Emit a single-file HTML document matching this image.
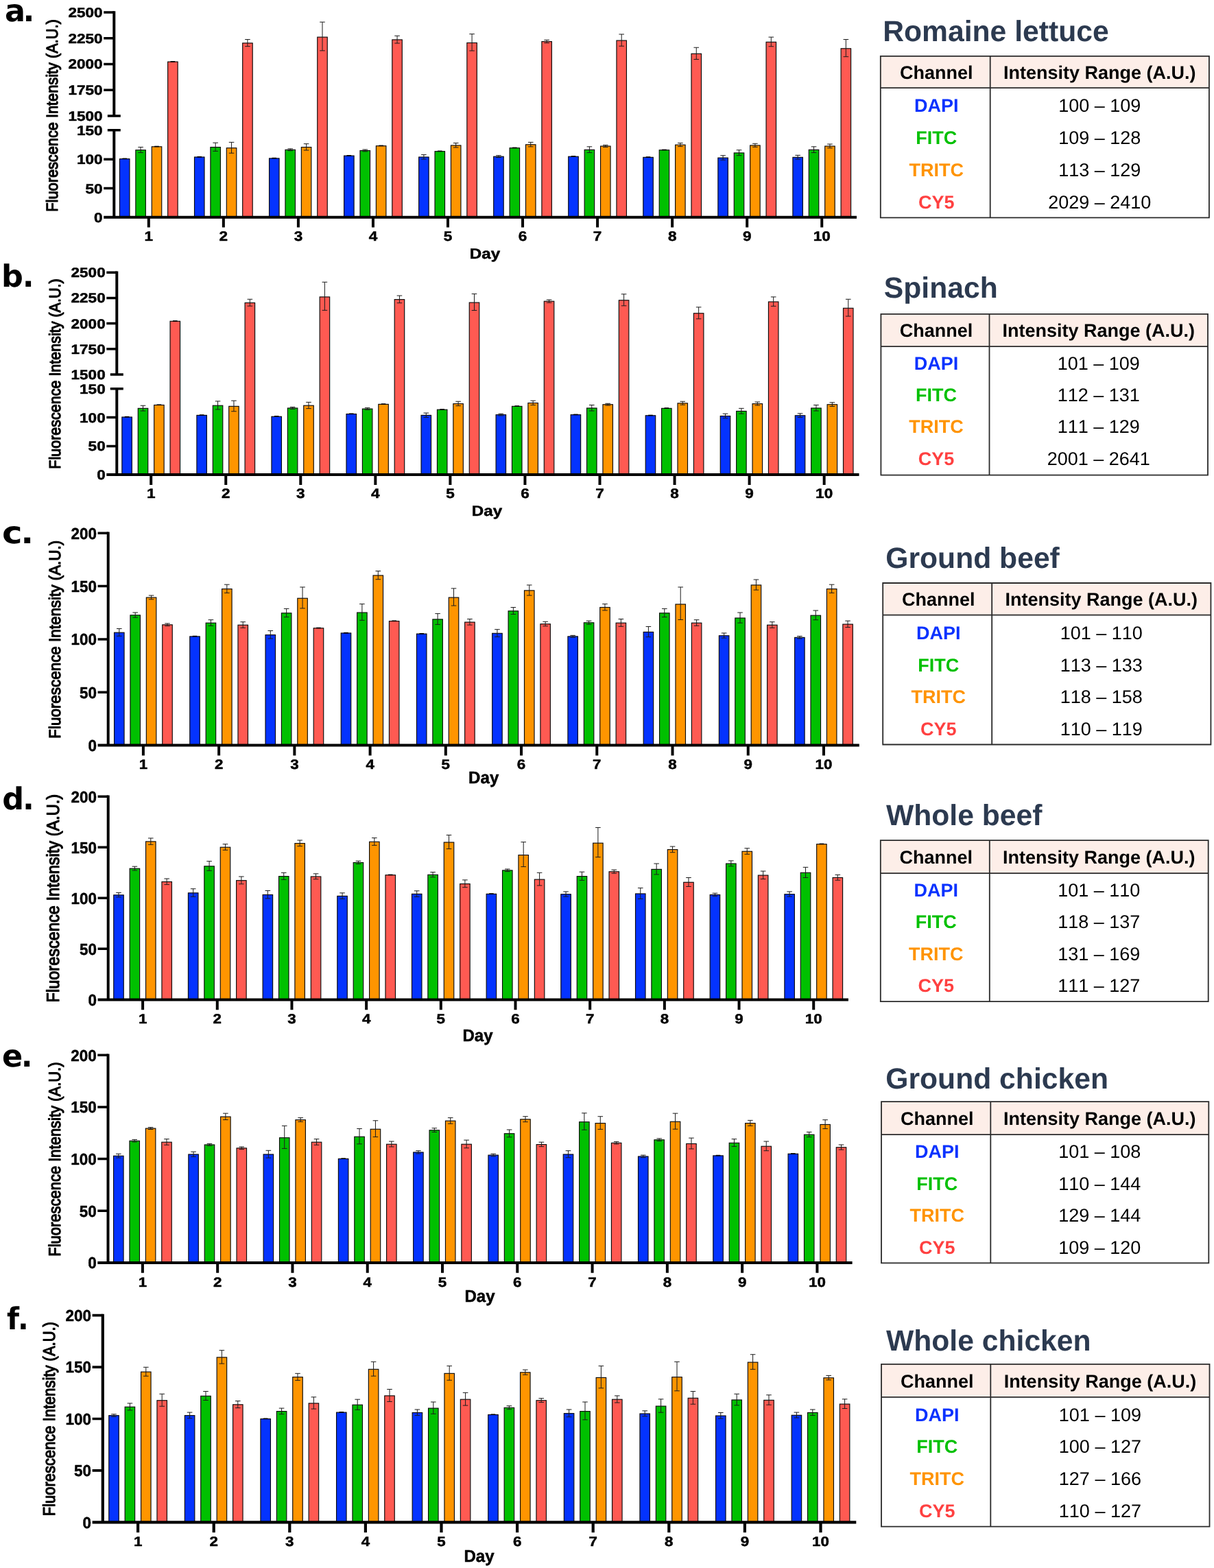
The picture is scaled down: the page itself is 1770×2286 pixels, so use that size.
<!DOCTYPE html>
<html lang="en"><head><meta charset="utf-8"><title>Fluorescence intensity by channel and food matrix</title>
<style>html,body{margin:0;padding:0;background:#fff}body{width:1770px;height:2286px;overflow:hidden}svg{display:block}text{font-kerning:none;text-rendering:geometricPrecision}</style>
</head><body>
<svg width="1770" height="2286" viewBox="0 0 1770 2286">
<rect width="1770" height="2286" fill="#fff"/>
<g>
<rect x="174.45" y="231.63" width="14.5" height="85.17" fill="#0433ff" stroke="#0a0a0a" stroke-width="1.15"/>
<path d="M178.4 231.33H185" stroke="#000" stroke-width="1.6" fill="none"/>
<rect x="197.85" y="218.76" width="14.5" height="98.04" fill="#00c000" stroke="#0a0a0a" stroke-width="1.15"/>
<path d="M205.1 214.59V222.51M201.3 214.59H208.9M201.3 222.51H208.9" stroke="#1c1c1c" stroke-width="1" fill="none"/>
<rect x="221.25" y="213.84" width="14.5" height="102.96" fill="#ff9500" stroke="#0a0a0a" stroke-width="1.15"/>
<path d="M225.2 213.54H231.8" stroke="#000" stroke-width="1.6" fill="none"/>
<rect x="244.65" y="90.08" width="14.5" height="226.72" fill="#ff5a52" stroke="#0a0a0a" stroke-width="1.15"/>
<path d="M248.6 89.78H255.2" stroke="#000" stroke-width="1.6" fill="none"/>
<rect x="283.5" y="228.98" width="14.5" height="87.82" fill="#0433ff" stroke="#0a0a0a" stroke-width="1.15"/>
<path d="M287.45 228.68H294.05" stroke="#000" stroke-width="1.6" fill="none"/>
<rect x="306.9" y="214.59" width="14.5" height="102.21" fill="#00c000" stroke="#0a0a0a" stroke-width="1.15"/>
<path d="M314.15 208.16V220.39M310.35 208.16H317.95M310.35 220.39H317.95" stroke="#1c1c1c" stroke-width="1" fill="none"/>
<rect x="330.3" y="215.73" width="14.5" height="101.07" fill="#ff9500" stroke="#0a0a0a" stroke-width="1.15"/>
<path d="M337.55 207.4V223.22M333.75 207.4H341.35M333.75 223.22H341.35" stroke="#1c1c1c" stroke-width="1" fill="none"/>
<rect x="353.7" y="62.83" width="14.5" height="253.97" fill="#ff5a52" stroke="#0a0a0a" stroke-width="1.15"/>
<path d="M360.95 57.53V67.6M357.15 57.53H364.75M357.15 67.6H364.75" stroke="#1c1c1c" stroke-width="1" fill="none"/>
<rect x="392.55" y="230.87" width="14.5" height="85.93" fill="#0433ff" stroke="#0a0a0a" stroke-width="1.15"/>
<path d="M396.5 230.57H403.1" stroke="#000" stroke-width="1.6" fill="none"/>
<rect x="415.95" y="218.38" width="14.5" height="98.42" fill="#00c000" stroke="#0a0a0a" stroke-width="1.15"/>
<path d="M423.2 216.87V219.74M419.4 216.87H427M419.4 219.74H427" stroke="#1c1c1c" stroke-width="1" fill="none"/>
<rect x="439.35" y="214.59" width="14.5" height="102.21" fill="#ff9500" stroke="#0a0a0a" stroke-width="1.15"/>
<path d="M446.6 209.67V219.02M442.8 209.67H450.4M442.8 219.02H450.4" stroke="#1c1c1c" stroke-width="1" fill="none"/>
<rect x="462.75" y="54.12" width="14.5" height="262.68" fill="#ff5a52" stroke="#0a0a0a" stroke-width="1.15"/>
<path d="M470 32.17V73.88M466.2 32.17H473.8M466.2 73.88H473.8" stroke="#1c1c1c" stroke-width="1" fill="none"/>
<rect x="501.6" y="227.08" width="14.5" height="89.72" fill="#0433ff" stroke="#0a0a0a" stroke-width="1.15"/>
<path d="M505.55 226.78H512.15" stroke="#000" stroke-width="1.6" fill="none"/>
<rect x="525" y="219.52" width="14.5" height="97.28" fill="#00c000" stroke="#0a0a0a" stroke-width="1.15"/>
<path d="M532.25 218V220.88M528.45 218H536.05M528.45 220.88H536.05" stroke="#1c1c1c" stroke-width="1" fill="none"/>
<rect x="548.4" y="212.7" width="14.5" height="104.1" fill="#ff9500" stroke="#0a0a0a" stroke-width="1.15"/>
<path d="M552.35 212.4H558.95" stroke="#000" stroke-width="1.6" fill="none"/>
<rect x="571.8" y="57.91" width="14.5" height="258.89" fill="#ff5a52" stroke="#0a0a0a" stroke-width="1.15"/>
<path d="M579.05 52.23V63.02M575.25 52.23H582.85M575.25 63.02H582.85" stroke="#1c1c1c" stroke-width="1" fill="none"/>
<rect x="610.65" y="228.98" width="14.5" height="87.82" fill="#0433ff" stroke="#0a0a0a" stroke-width="1.15"/>
<path d="M617.9 225.57V232.04M614.1 225.57H621.7M614.1 232.04H621.7" stroke="#1c1c1c" stroke-width="1" fill="none"/>
<rect x="634.05" y="220.65" width="14.5" height="96.15" fill="#00c000" stroke="#0a0a0a" stroke-width="1.15"/>
<path d="M638 220.35H644.6" stroke="#000" stroke-width="1.6" fill="none"/>
<rect x="657.45" y="211.95" width="14.5" height="104.85" fill="#ff9500" stroke="#0a0a0a" stroke-width="1.15"/>
<path d="M664.7 208.54V215.01M660.9 208.54H668.5M660.9 215.01H668.5" stroke="#1c1c1c" stroke-width="1" fill="none"/>
<rect x="680.85" y="62.45" width="14.5" height="254.35" fill="#ff5a52" stroke="#0a0a0a" stroke-width="1.15"/>
<path d="M688.1 49.58V74.03M684.3 49.58H691.9M684.3 74.03H691.9" stroke="#1c1c1c" stroke-width="1" fill="none"/>
<rect x="719.7" y="228.22" width="14.5" height="88.58" fill="#0433ff" stroke="#0a0a0a" stroke-width="1.15"/>
<path d="M726.95 226.71V229.58M723.15 226.71H730.75M723.15 229.58H730.75" stroke="#1c1c1c" stroke-width="1" fill="none"/>
<rect x="743.1" y="215.73" width="14.5" height="101.07" fill="#00c000" stroke="#0a0a0a" stroke-width="1.15"/>
<path d="M747.05 215.43H753.65" stroke="#000" stroke-width="1.6" fill="none"/>
<rect x="766.5" y="210.81" width="14.5" height="105.99" fill="#ff9500" stroke="#0a0a0a" stroke-width="1.15"/>
<path d="M773.75 207.4V213.88M769.95 207.4H777.55M769.95 213.88H777.55" stroke="#1c1c1c" stroke-width="1" fill="none"/>
<rect x="789.9" y="60.56" width="14.5" height="256.24" fill="#ff5a52" stroke="#0a0a0a" stroke-width="1.15"/>
<path d="M797.15 58.29V62.6M793.35 58.29H800.95M793.35 62.6H800.95" stroke="#1c1c1c" stroke-width="1" fill="none"/>
<rect x="828.75" y="228.22" width="14.5" height="88.58" fill="#0433ff" stroke="#0a0a0a" stroke-width="1.15"/>
<path d="M832.7 227.92H839.3" stroke="#000" stroke-width="1.6" fill="none"/>
<rect x="852.15" y="218.38" width="14.5" height="98.42" fill="#00c000" stroke="#0a0a0a" stroke-width="1.15"/>
<path d="M859.4 213.84V222.47M855.6 213.84H863.2M855.6 222.47H863.2" stroke="#1c1c1c" stroke-width="1" fill="none"/>
<rect x="875.55" y="213.08" width="14.5" height="103.72" fill="#ff9500" stroke="#0a0a0a" stroke-width="1.15"/>
<path d="M882.8 211.57V214.44M879 211.57H886.6M879 214.44H886.6" stroke="#1c1c1c" stroke-width="1" fill="none"/>
<rect x="898.95" y="59.04" width="14.5" height="257.76" fill="#ff5a52" stroke="#0a0a0a" stroke-width="1.15"/>
<path d="M906.2 49.96V67.22M902.4 49.96H910M902.4 67.22H910" stroke="#1c1c1c" stroke-width="1" fill="none"/>
<rect x="937.8" y="229.36" width="14.5" height="87.44" fill="#0433ff" stroke="#0a0a0a" stroke-width="1.15"/>
<path d="M941.75 229.06H948.35" stroke="#000" stroke-width="1.6" fill="none"/>
<rect x="961.2" y="218.76" width="14.5" height="98.04" fill="#00c000" stroke="#0a0a0a" stroke-width="1.15"/>
<path d="M965.15 218.46H971.75" stroke="#000" stroke-width="1.6" fill="none"/>
<rect x="984.6" y="211.19" width="14.5" height="105.61" fill="#ff9500" stroke="#0a0a0a" stroke-width="1.15"/>
<path d="M991.85 208.54V213.57M988.05 208.54H995.65M988.05 213.57H995.65" stroke="#1c1c1c" stroke-width="1" fill="none"/>
<rect x="1008" y="78.34" width="14.5" height="238.46" fill="#ff5a52" stroke="#0a0a0a" stroke-width="1.15"/>
<path d="M1015.25 69.26V86.52M1011.45 69.26H1019.05M1011.45 86.52H1019.05" stroke="#1c1c1c" stroke-width="1" fill="none"/>
<rect x="1046.85" y="230.11" width="14.5" height="86.69" fill="#0433ff" stroke="#0a0a0a" stroke-width="1.15"/>
<path d="M1054.1 226.71V233.18M1050.3 226.71H1057.9M1050.3 233.18H1057.9" stroke="#1c1c1c" stroke-width="1" fill="none"/>
<rect x="1070.25" y="222.92" width="14.5" height="93.88" fill="#00c000" stroke="#0a0a0a" stroke-width="1.15"/>
<path d="M1077.5 218.76V226.67M1073.7 218.76H1081.3M1073.7 226.67H1081.3" stroke="#1c1c1c" stroke-width="1" fill="none"/>
<rect x="1093.65" y="211.95" width="14.5" height="104.85" fill="#ff9500" stroke="#0a0a0a" stroke-width="1.15"/>
<path d="M1100.9 209.3V214.33M1097.1 209.3H1104.7M1097.1 214.33H1104.7" stroke="#1c1c1c" stroke-width="1" fill="none"/>
<rect x="1117.05" y="61.31" width="14.5" height="255.49" fill="#ff5a52" stroke="#0a0a0a" stroke-width="1.15"/>
<path d="M1124.3 54.12V67.78M1120.5 54.12H1128.1M1120.5 67.78H1128.1" stroke="#1c1c1c" stroke-width="1" fill="none"/>
<rect x="1155.9" y="229.36" width="14.5" height="87.44" fill="#0433ff" stroke="#0a0a0a" stroke-width="1.15"/>
<path d="M1163.15 226.33V232.08M1159.35 226.33H1166.95M1159.35 232.08H1166.95" stroke="#1c1c1c" stroke-width="1" fill="none"/>
<rect x="1179.3" y="218.38" width="14.5" height="98.42" fill="#00c000" stroke="#0a0a0a" stroke-width="1.15"/>
<path d="M1186.55 213.84V222.47M1182.75 213.84H1190.35M1182.75 222.47H1190.35" stroke="#1c1c1c" stroke-width="1" fill="none"/>
<rect x="1202.7" y="213.08" width="14.5" height="103.72" fill="#ff9500" stroke="#0a0a0a" stroke-width="1.15"/>
<path d="M1209.95 210.05V215.81M1206.15 210.05H1213.75M1206.15 215.81H1213.75" stroke="#1c1c1c" stroke-width="1" fill="none"/>
<rect x="1226.1" y="70.77" width="14.5" height="246.03" fill="#ff5a52" stroke="#0a0a0a" stroke-width="1.15"/>
<path d="M1233.35 57.53V82.7M1229.55 57.53H1237.15M1229.55 82.7H1237.15" stroke="#1c1c1c" stroke-width="1" fill="none"/>
<path d="M166.3 16.2V168.9M166.3 189.8V316.8" stroke="#000" stroke-width="4" fill="none"/>
<path d="M151.2 316.8H1249" stroke="#000" stroke-width="4" fill="none"/>
<text transform="translate(149.6 24.99) scale(1.14 1)" font-family="'Liberation Sans', sans-serif" font-size="19.8" font-weight="bold" text-anchor="end" fill="#000" stroke="#000" stroke-width="0.5" stroke-linejoin="round">2500</text>
<text transform="translate(149.6 62.74) scale(1.14 1)" font-family="'Liberation Sans', sans-serif" font-size="19.8" font-weight="bold" text-anchor="end" fill="#000" stroke="#000" stroke-width="0.5" stroke-linejoin="round">2250</text>
<text transform="translate(149.6 100.49) scale(1.14 1)" font-family="'Liberation Sans', sans-serif" font-size="19.8" font-weight="bold" text-anchor="end" fill="#000" stroke="#000" stroke-width="0.5" stroke-linejoin="round">2000</text>
<text transform="translate(149.6 138.24) scale(1.14 1)" font-family="'Liberation Sans', sans-serif" font-size="19.8" font-weight="bold" text-anchor="end" fill="#000" stroke="#000" stroke-width="0.5" stroke-linejoin="round">1750</text>
<text transform="translate(149.6 175.99) scale(1.14 1)" font-family="'Liberation Sans', sans-serif" font-size="19.8" font-weight="bold" text-anchor="end" fill="#000" stroke="#000" stroke-width="0.5" stroke-linejoin="round">1500</text>
<text transform="translate(149.6 196.89) scale(1.14 1)" font-family="'Liberation Sans', sans-serif" font-size="19.8" font-weight="bold" text-anchor="end" fill="#000" stroke="#000" stroke-width="0.5" stroke-linejoin="round">150</text>
<text transform="translate(149.6 239.29) scale(1.14 1)" font-family="'Liberation Sans', sans-serif" font-size="19.8" font-weight="bold" text-anchor="end" fill="#000" stroke="#000" stroke-width="0.5" stroke-linejoin="round">100</text>
<text transform="translate(149.6 281.59) scale(1.14 1)" font-family="'Liberation Sans', sans-serif" font-size="19.8" font-weight="bold" text-anchor="end" fill="#000" stroke="#000" stroke-width="0.5" stroke-linejoin="round">50</text>
<text transform="translate(149.6 323.89) scale(1.14 1)" font-family="'Liberation Sans', sans-serif" font-size="19.8" font-weight="bold" text-anchor="end" fill="#000" stroke="#000" stroke-width="0.5" stroke-linejoin="round">0</text>
<path d="M151.2 17.9H166.3M151.2 55.65H166.3M151.2 93.4H166.3M151.2 131.15H166.3M156.8 168.9H175.8M156.8 189.8H175.8M151.2 232.2H166.3M151.2 274.5H166.3" stroke="#000" stroke-width="3.5" fill="none"/>
<text transform="translate(216.8 350.7) scale(1.14 1)" font-family="'Liberation Sans', sans-serif" font-size="19.8" font-weight="bold" text-anchor="middle" fill="#000" stroke="#000" stroke-width="0.5" stroke-linejoin="round">1</text>
<text transform="translate(325.85 350.7) scale(1.14 1)" font-family="'Liberation Sans', sans-serif" font-size="19.8" font-weight="bold" text-anchor="middle" fill="#000" stroke="#000" stroke-width="0.5" stroke-linejoin="round">2</text>
<text transform="translate(434.9 350.7) scale(1.14 1)" font-family="'Liberation Sans', sans-serif" font-size="19.8" font-weight="bold" text-anchor="middle" fill="#000" stroke="#000" stroke-width="0.5" stroke-linejoin="round">3</text>
<text transform="translate(543.95 350.7) scale(1.14 1)" font-family="'Liberation Sans', sans-serif" font-size="19.8" font-weight="bold" text-anchor="middle" fill="#000" stroke="#000" stroke-width="0.5" stroke-linejoin="round">4</text>
<text transform="translate(653 350.7) scale(1.14 1)" font-family="'Liberation Sans', sans-serif" font-size="19.8" font-weight="bold" text-anchor="middle" fill="#000" stroke="#000" stroke-width="0.5" stroke-linejoin="round">5</text>
<text transform="translate(762.05 350.7) scale(1.14 1)" font-family="'Liberation Sans', sans-serif" font-size="19.8" font-weight="bold" text-anchor="middle" fill="#000" stroke="#000" stroke-width="0.5" stroke-linejoin="round">6</text>
<text transform="translate(871.1 350.7) scale(1.14 1)" font-family="'Liberation Sans', sans-serif" font-size="19.8" font-weight="bold" text-anchor="middle" fill="#000" stroke="#000" stroke-width="0.5" stroke-linejoin="round">7</text>
<text transform="translate(980.15 350.7) scale(1.14 1)" font-family="'Liberation Sans', sans-serif" font-size="19.8" font-weight="bold" text-anchor="middle" fill="#000" stroke="#000" stroke-width="0.5" stroke-linejoin="round">8</text>
<text transform="translate(1089.2 350.7) scale(1.14 1)" font-family="'Liberation Sans', sans-serif" font-size="19.8" font-weight="bold" text-anchor="middle" fill="#000" stroke="#000" stroke-width="0.5" stroke-linejoin="round">9</text>
<text transform="translate(1198.25 350.7) scale(1.14 1)" font-family="'Liberation Sans', sans-serif" font-size="19.8" font-weight="bold" text-anchor="middle" fill="#000" stroke="#000" stroke-width="0.5" stroke-linejoin="round">10</text>
<path d="M216.8 316.8V331.6M325.85 316.8V331.6M434.9 316.8V331.6M543.95 316.8V331.6M653 316.8V331.6M762.05 316.8V331.6M871.1 316.8V331.6M980.15 316.8V331.6M1089.2 316.8V331.6M1198.25 316.8V331.6" stroke="#000" stroke-width="4" fill="none"/>
<text transform="translate(707 376.5) scale(1.14 1)" font-family="'Liberation Sans', sans-serif" font-size="21.19" font-weight="bold" text-anchor="middle" fill="#000" stroke="#000" stroke-width="0.5" stroke-linejoin="round">Day</text>
<text transform="translate(84.11 168.45) rotate(-90) scale(1 1.08)" font-family="'Liberation Sans', sans-serif" font-size="21.76" font-weight="normal" text-anchor="middle" fill="#000" stroke="#000" stroke-width="1.1" stroke-linejoin="round">Fluorescence Intensity (A.U.)</text>
<text transform="translate(6.9 31)" font-family="'DejaVu Sans', sans-serif" font-size="44.5" font-weight="bold" text-anchor="start" fill="#000">a<tspan x="26.62">.</tspan></text>
</g>
<g>
<rect x="177.85" y="608.03" width="14.5" height="84.07" fill="#0433ff" stroke="#0a0a0a" stroke-width="1.15"/>
<path d="M181.8 607.73H188.4" stroke="#000" stroke-width="1.6" fill="none"/>
<rect x="201.25" y="595.35" width="14.5" height="96.75" fill="#00c000" stroke="#0a0a0a" stroke-width="1.15"/>
<path d="M208.5 591.25V599.04M204.7 591.25H212.3M204.7 599.04H212.3" stroke="#1c1c1c" stroke-width="1" fill="none"/>
<rect x="224.65" y="590.5" width="14.5" height="101.6" fill="#ff9500" stroke="#0a0a0a" stroke-width="1.15"/>
<path d="M228.6 590.2H235.2" stroke="#000" stroke-width="1.6" fill="none"/>
<rect x="248.05" y="468.33" width="14.5" height="223.77" fill="#ff5a52" stroke="#0a0a0a" stroke-width="1.15"/>
<path d="M252 468.03H258.6" stroke="#000" stroke-width="1.6" fill="none"/>
<rect x="286.9" y="605.42" width="14.5" height="86.68" fill="#0433ff" stroke="#0a0a0a" stroke-width="1.15"/>
<path d="M290.85 605.12H297.45" stroke="#000" stroke-width="1.6" fill="none"/>
<rect x="310.3" y="591.24" width="14.5" height="100.86" fill="#00c000" stroke="#0a0a0a" stroke-width="1.15"/>
<path d="M317.55 584.91V596.95M313.75 584.91H321.35M313.75 596.95H321.35" stroke="#1c1c1c" stroke-width="1" fill="none"/>
<rect x="333.7" y="592.36" width="14.5" height="99.74" fill="#ff9500" stroke="#0a0a0a" stroke-width="1.15"/>
<path d="M340.95 584.16V599.74M337.15 584.16H344.75M337.15 599.74H344.75" stroke="#1c1c1c" stroke-width="1" fill="none"/>
<rect x="357.1" y="441.47" width="14.5" height="250.63" fill="#ff5a52" stroke="#0a0a0a" stroke-width="1.15"/>
<path d="M364.35 436.25V446.17M360.55 436.25H368.15M360.55 446.17H368.15" stroke="#1c1c1c" stroke-width="1" fill="none"/>
<rect x="395.95" y="607.29" width="14.5" height="84.81" fill="#0433ff" stroke="#0a0a0a" stroke-width="1.15"/>
<path d="M399.9 606.99H406.5" stroke="#000" stroke-width="1.6" fill="none"/>
<rect x="419.35" y="594.98" width="14.5" height="97.12" fill="#00c000" stroke="#0a0a0a" stroke-width="1.15"/>
<path d="M426.6 593.48V596.32M422.8 593.48H430.4M422.8 596.32H430.4" stroke="#1c1c1c" stroke-width="1" fill="none"/>
<rect x="442.75" y="591.24" width="14.5" height="100.86" fill="#ff9500" stroke="#0a0a0a" stroke-width="1.15"/>
<path d="M450 586.4V595.61M446.2 586.4H453.8M446.2 595.61H453.8" stroke="#1c1c1c" stroke-width="1" fill="none"/>
<rect x="466.15" y="432.9" width="14.5" height="259.2" fill="#ff5a52" stroke="#0a0a0a" stroke-width="1.15"/>
<path d="M473.4 411.27V452.36M469.6 411.27H477.2M469.6 452.36H477.2" stroke="#1c1c1c" stroke-width="1" fill="none"/>
<rect x="505" y="603.56" width="14.5" height="88.54" fill="#0433ff" stroke="#0a0a0a" stroke-width="1.15"/>
<path d="M508.95 603.26H515.55" stroke="#000" stroke-width="1.6" fill="none"/>
<rect x="528.4" y="596.09" width="14.5" height="96.01" fill="#00c000" stroke="#0a0a0a" stroke-width="1.15"/>
<path d="M535.65 594.6V597.44M531.85 594.6H539.45M531.85 597.44H539.45" stroke="#1c1c1c" stroke-width="1" fill="none"/>
<rect x="551.8" y="589.38" width="14.5" height="102.72" fill="#ff9500" stroke="#0a0a0a" stroke-width="1.15"/>
<path d="M555.75 589.08H562.35" stroke="#000" stroke-width="1.6" fill="none"/>
<rect x="575.2" y="436.62" width="14.5" height="255.48" fill="#ff5a52" stroke="#0a0a0a" stroke-width="1.15"/>
<path d="M582.45 431.03V441.66M578.65 431.03H586.25M578.65 441.66H586.25" stroke="#1c1c1c" stroke-width="1" fill="none"/>
<rect x="614.05" y="605.42" width="14.5" height="86.68" fill="#0433ff" stroke="#0a0a0a" stroke-width="1.15"/>
<path d="M621.3 602.07V608.44M617.5 602.07H625.1M617.5 608.44H625.1" stroke="#1c1c1c" stroke-width="1" fill="none"/>
<rect x="637.45" y="597.21" width="14.5" height="94.89" fill="#00c000" stroke="#0a0a0a" stroke-width="1.15"/>
<path d="M641.4 596.91H648" stroke="#000" stroke-width="1.6" fill="none"/>
<rect x="660.85" y="588.63" width="14.5" height="103.47" fill="#ff9500" stroke="#0a0a0a" stroke-width="1.15"/>
<path d="M668.1 585.28V591.65M664.3 585.28H671.9M664.3 591.65H671.9" stroke="#1c1c1c" stroke-width="1" fill="none"/>
<rect x="684.25" y="441.1" width="14.5" height="251" fill="#ff5a52" stroke="#0a0a0a" stroke-width="1.15"/>
<path d="M691.5 428.42V452.51M687.7 428.42H695.3M687.7 452.51H695.3" stroke="#1c1c1c" stroke-width="1" fill="none"/>
<rect x="723.1" y="604.68" width="14.5" height="87.42" fill="#0433ff" stroke="#0a0a0a" stroke-width="1.15"/>
<path d="M730.35 603.19V606.02M726.55 603.19H734.15M726.55 606.02H734.15" stroke="#1c1c1c" stroke-width="1" fill="none"/>
<rect x="746.5" y="592.36" width="14.5" height="99.74" fill="#00c000" stroke="#0a0a0a" stroke-width="1.15"/>
<path d="M750.45 592.06H757.05" stroke="#000" stroke-width="1.6" fill="none"/>
<rect x="769.9" y="587.51" width="14.5" height="104.59" fill="#ff9500" stroke="#0a0a0a" stroke-width="1.15"/>
<path d="M777.15 584.16V590.53M773.35 584.16H780.95M773.35 590.53H780.95" stroke="#1c1c1c" stroke-width="1" fill="none"/>
<rect x="793.3" y="439.23" width="14.5" height="252.87" fill="#ff5a52" stroke="#0a0a0a" stroke-width="1.15"/>
<path d="M800.55 437V441.25M796.75 437H804.35M796.75 441.25H804.35" stroke="#1c1c1c" stroke-width="1" fill="none"/>
<rect x="832.15" y="604.68" width="14.5" height="87.42" fill="#0433ff" stroke="#0a0a0a" stroke-width="1.15"/>
<path d="M836.1 604.38H842.7" stroke="#000" stroke-width="1.6" fill="none"/>
<rect x="855.55" y="594.98" width="14.5" height="97.12" fill="#00c000" stroke="#0a0a0a" stroke-width="1.15"/>
<path d="M862.8 590.5V599M859 590.5H866.6M859 599H866.6" stroke="#1c1c1c" stroke-width="1" fill="none"/>
<rect x="878.95" y="589.75" width="14.5" height="102.35" fill="#ff9500" stroke="#0a0a0a" stroke-width="1.15"/>
<path d="M886.2 588.26V591.09M882.4 588.26H890M882.4 591.09H890" stroke="#1c1c1c" stroke-width="1" fill="none"/>
<rect x="902.35" y="437.74" width="14.5" height="254.36" fill="#ff5a52" stroke="#0a0a0a" stroke-width="1.15"/>
<path d="M909.6 428.8V445.79M905.8 428.8H913.4M905.8 445.79H913.4" stroke="#1c1c1c" stroke-width="1" fill="none"/>
<rect x="941.2" y="605.8" width="14.5" height="86.3" fill="#0433ff" stroke="#0a0a0a" stroke-width="1.15"/>
<path d="M945.15 605.5H951.75" stroke="#000" stroke-width="1.6" fill="none"/>
<rect x="964.6" y="595.35" width="14.5" height="96.75" fill="#00c000" stroke="#0a0a0a" stroke-width="1.15"/>
<path d="M968.55 595.05H975.15" stroke="#000" stroke-width="1.6" fill="none"/>
<rect x="988" y="587.89" width="14.5" height="104.21" fill="#ff9500" stroke="#0a0a0a" stroke-width="1.15"/>
<path d="M995.25 585.28V590.23M991.45 585.28H999.05M991.45 590.23H999.05" stroke="#1c1c1c" stroke-width="1" fill="none"/>
<rect x="1011.4" y="456.76" width="14.5" height="235.34" fill="#ff5a52" stroke="#0a0a0a" stroke-width="1.15"/>
<path d="M1018.65 447.82V464.82M1014.85 447.82H1022.45M1014.85 464.82H1022.45" stroke="#1c1c1c" stroke-width="1" fill="none"/>
<rect x="1050.25" y="606.54" width="14.5" height="85.56" fill="#0433ff" stroke="#0a0a0a" stroke-width="1.15"/>
<path d="M1057.5 603.19V609.56M1053.7 603.19H1061.3M1053.7 609.56H1061.3" stroke="#1c1c1c" stroke-width="1" fill="none"/>
<rect x="1073.65" y="599.45" width="14.5" height="92.65" fill="#00c000" stroke="#0a0a0a" stroke-width="1.15"/>
<path d="M1080.9 595.35V603.14M1077.1 595.35H1084.7M1077.1 603.14H1084.7" stroke="#1c1c1c" stroke-width="1" fill="none"/>
<rect x="1097.05" y="588.63" width="14.5" height="103.47" fill="#ff9500" stroke="#0a0a0a" stroke-width="1.15"/>
<path d="M1104.3 586.02V590.98M1100.5 586.02H1108.1M1100.5 590.98H1108.1" stroke="#1c1c1c" stroke-width="1" fill="none"/>
<rect x="1120.45" y="439.98" width="14.5" height="252.12" fill="#ff5a52" stroke="#0a0a0a" stroke-width="1.15"/>
<path d="M1127.7 432.9V446.36M1123.9 432.9H1131.5M1123.9 446.36H1131.5" stroke="#1c1c1c" stroke-width="1" fill="none"/>
<rect x="1159.3" y="605.8" width="14.5" height="86.3" fill="#0433ff" stroke="#0a0a0a" stroke-width="1.15"/>
<path d="M1166.55 602.81V608.48M1162.75 602.81H1170.35M1162.75 608.48H1170.35" stroke="#1c1c1c" stroke-width="1" fill="none"/>
<rect x="1182.7" y="594.98" width="14.5" height="97.12" fill="#00c000" stroke="#0a0a0a" stroke-width="1.15"/>
<path d="M1189.95 590.5V599M1186.15 590.5H1193.75M1186.15 599H1193.75" stroke="#1c1c1c" stroke-width="1" fill="none"/>
<rect x="1206.1" y="589.75" width="14.5" height="102.35" fill="#ff9500" stroke="#0a0a0a" stroke-width="1.15"/>
<path d="M1213.35 586.77V592.44M1209.55 586.77H1217.15M1209.55 592.44H1217.15" stroke="#1c1c1c" stroke-width="1" fill="none"/>
<rect x="1229.5" y="449.3" width="14.5" height="242.8" fill="#ff5a52" stroke="#0a0a0a" stroke-width="1.15"/>
<path d="M1236.75 436.26V461.05M1232.95 436.26H1240.55M1232.95 461.05H1240.55" stroke="#1c1c1c" stroke-width="1" fill="none"/>
<path d="M170.3 395.55V546M170.3 566.8V692.1" stroke="#000" stroke-width="4" fill="none"/>
<path d="M155.3 692.1H1252.5" stroke="#000" stroke-width="4" fill="none"/>
<text transform="translate(153.7 404.34) scale(1.14 1)" font-family="'Liberation Sans', sans-serif" font-size="19.8" font-weight="bold" text-anchor="end" fill="#000" stroke="#000" stroke-width="0.5" stroke-linejoin="round">2500</text>
<text transform="translate(153.7 441.49) scale(1.14 1)" font-family="'Liberation Sans', sans-serif" font-size="19.8" font-weight="bold" text-anchor="end" fill="#000" stroke="#000" stroke-width="0.5" stroke-linejoin="round">2250</text>
<text transform="translate(153.7 478.69) scale(1.14 1)" font-family="'Liberation Sans', sans-serif" font-size="19.8" font-weight="bold" text-anchor="end" fill="#000" stroke="#000" stroke-width="0.5" stroke-linejoin="round">2000</text>
<text transform="translate(153.7 515.89) scale(1.14 1)" font-family="'Liberation Sans', sans-serif" font-size="19.8" font-weight="bold" text-anchor="end" fill="#000" stroke="#000" stroke-width="0.5" stroke-linejoin="round">1750</text>
<text transform="translate(153.7 553.09) scale(1.14 1)" font-family="'Liberation Sans', sans-serif" font-size="19.8" font-weight="bold" text-anchor="end" fill="#000" stroke="#000" stroke-width="0.5" stroke-linejoin="round">1500</text>
<text transform="translate(153.7 573.89) scale(1.14 1)" font-family="'Liberation Sans', sans-serif" font-size="19.8" font-weight="bold" text-anchor="end" fill="#000" stroke="#000" stroke-width="0.5" stroke-linejoin="round">150</text>
<text transform="translate(153.7 615.69) scale(1.14 1)" font-family="'Liberation Sans', sans-serif" font-size="19.8" font-weight="bold" text-anchor="end" fill="#000" stroke="#000" stroke-width="0.5" stroke-linejoin="round">100</text>
<text transform="translate(153.7 657.49) scale(1.14 1)" font-family="'Liberation Sans', sans-serif" font-size="19.8" font-weight="bold" text-anchor="end" fill="#000" stroke="#000" stroke-width="0.5" stroke-linejoin="round">50</text>
<text transform="translate(153.7 699.19) scale(1.14 1)" font-family="'Liberation Sans', sans-serif" font-size="19.8" font-weight="bold" text-anchor="end" fill="#000" stroke="#000" stroke-width="0.5" stroke-linejoin="round">0</text>
<path d="M155.3 397.25H170.3M155.3 434.4H170.3M155.3 471.6H170.3M155.3 508.8H170.3M160.8 546H179.8M160.8 566.8H179.8M155.3 608.6H170.3M155.3 650.4H170.3" stroke="#000" stroke-width="3.5" fill="none"/>
<text transform="translate(220.2 726) scale(1.14 1)" font-family="'Liberation Sans', sans-serif" font-size="19.8" font-weight="bold" text-anchor="middle" fill="#000" stroke="#000" stroke-width="0.5" stroke-linejoin="round">1</text>
<text transform="translate(329.25 726) scale(1.14 1)" font-family="'Liberation Sans', sans-serif" font-size="19.8" font-weight="bold" text-anchor="middle" fill="#000" stroke="#000" stroke-width="0.5" stroke-linejoin="round">2</text>
<text transform="translate(438.3 726) scale(1.14 1)" font-family="'Liberation Sans', sans-serif" font-size="19.8" font-weight="bold" text-anchor="middle" fill="#000" stroke="#000" stroke-width="0.5" stroke-linejoin="round">3</text>
<text transform="translate(547.35 726) scale(1.14 1)" font-family="'Liberation Sans', sans-serif" font-size="19.8" font-weight="bold" text-anchor="middle" fill="#000" stroke="#000" stroke-width="0.5" stroke-linejoin="round">4</text>
<text transform="translate(656.4 726) scale(1.14 1)" font-family="'Liberation Sans', sans-serif" font-size="19.8" font-weight="bold" text-anchor="middle" fill="#000" stroke="#000" stroke-width="0.5" stroke-linejoin="round">5</text>
<text transform="translate(765.45 726) scale(1.14 1)" font-family="'Liberation Sans', sans-serif" font-size="19.8" font-weight="bold" text-anchor="middle" fill="#000" stroke="#000" stroke-width="0.5" stroke-linejoin="round">6</text>
<text transform="translate(874.5 726) scale(1.14 1)" font-family="'Liberation Sans', sans-serif" font-size="19.8" font-weight="bold" text-anchor="middle" fill="#000" stroke="#000" stroke-width="0.5" stroke-linejoin="round">7</text>
<text transform="translate(983.55 726) scale(1.14 1)" font-family="'Liberation Sans', sans-serif" font-size="19.8" font-weight="bold" text-anchor="middle" fill="#000" stroke="#000" stroke-width="0.5" stroke-linejoin="round">8</text>
<text transform="translate(1092.6 726) scale(1.14 1)" font-family="'Liberation Sans', sans-serif" font-size="19.8" font-weight="bold" text-anchor="middle" fill="#000" stroke="#000" stroke-width="0.5" stroke-linejoin="round">9</text>
<text transform="translate(1201.65 726) scale(1.14 1)" font-family="'Liberation Sans', sans-serif" font-size="19.8" font-weight="bold" text-anchor="middle" fill="#000" stroke="#000" stroke-width="0.5" stroke-linejoin="round">10</text>
<path d="M220.2 692.1V706.9M329.25 692.1V706.9M438.3 692.1V706.9M547.35 692.1V706.9M656.4 692.1V706.9M765.45 692.1V706.9M874.5 692.1V706.9M983.55 692.1V706.9M1092.6 692.1V706.9M1201.65 692.1V706.9" stroke="#000" stroke-width="4" fill="none"/>
<text transform="translate(710 751.5) scale(1.14 1)" font-family="'Liberation Sans', sans-serif" font-size="21.19" font-weight="bold" text-anchor="middle" fill="#000" stroke="#000" stroke-width="0.5" stroke-linejoin="round">Day</text>
<text transform="translate(88.04 545.05) rotate(-90) scale(1 1.08)" font-family="'Liberation Sans', sans-serif" font-size="21.5" font-weight="normal" text-anchor="middle" fill="#000" stroke="#000" stroke-width="1.1" stroke-linejoin="round">Fluorescence Intensity (A.U.)</text>
<text transform="translate(1.9 418.2)" font-family="'DejaVu Sans', sans-serif" font-size="44.5" font-weight="bold" text-anchor="start" fill="#000">b<tspan x="30.92">.</tspan></text>
</g>
<g>
<rect x="166.55" y="922.21" width="14.5" height="164.39" fill="#0433ff" stroke="#0a0a0a" stroke-width="1.15"/>
<path d="M173.8 916.53V927.32M170 916.53H177.6M170 927.32H177.6" stroke="#1c1c1c" stroke-width="1" fill="none"/>
<rect x="189.95" y="896.85" width="14.5" height="189.75" fill="#00c000" stroke="#0a0a0a" stroke-width="1.15"/>
<path d="M197.2 893.06V900.25M193.4 893.06H201M193.4 900.25H201" stroke="#1c1c1c" stroke-width="1" fill="none"/>
<rect x="213.35" y="871.11" width="14.5" height="215.49" fill="#ff9500" stroke="#0a0a0a" stroke-width="1.15"/>
<path d="M220.6 868.08V873.84M216.8 868.08H224.4M216.8 873.84H224.4" stroke="#1c1c1c" stroke-width="1" fill="none"/>
<rect x="236.75" y="910.85" width="14.5" height="175.75" fill="#ff5a52" stroke="#0a0a0a" stroke-width="1.15"/>
<path d="M244 908.96V912.55M240.2 908.96H247.8M240.2 912.55H247.8" stroke="#1c1c1c" stroke-width="1" fill="none"/>
<rect x="276.78" y="927.88" width="14.5" height="158.72" fill="#0433ff" stroke="#0a0a0a" stroke-width="1.15"/>
<path d="M280.73 927.58H287.33" stroke="#000" stroke-width="1.6" fill="none"/>
<rect x="300.18" y="908.2" width="14.5" height="178.4" fill="#00c000" stroke="#0a0a0a" stroke-width="1.15"/>
<path d="M307.43 903.66V912.29M303.63 903.66H311.23M303.63 912.29H311.23" stroke="#1c1c1c" stroke-width="1" fill="none"/>
<rect x="323.58" y="858.62" width="14.5" height="227.98" fill="#ff9500" stroke="#0a0a0a" stroke-width="1.15"/>
<path d="M330.83 852.19V864.41M327.03 852.19H334.63M327.03 864.41H334.63" stroke="#1c1c1c" stroke-width="1" fill="none"/>
<rect x="346.98" y="911.23" width="14.5" height="175.37" fill="#ff5a52" stroke="#0a0a0a" stroke-width="1.15"/>
<path d="M354.23 906.69V915.32M350.43 906.69H358.03M350.43 915.32H358.03" stroke="#1c1c1c" stroke-width="1" fill="none"/>
<rect x="387.01" y="925.61" width="14.5" height="160.99" fill="#0433ff" stroke="#0a0a0a" stroke-width="1.15"/>
<path d="M394.26 919.56V931.06M390.46 919.56H398.06M390.46 931.06H398.06" stroke="#1c1c1c" stroke-width="1" fill="none"/>
<rect x="410.41" y="893.82" width="14.5" height="192.78" fill="#00c000" stroke="#0a0a0a" stroke-width="1.15"/>
<path d="M417.66 887.39V899.61M413.86 887.39H421.46M413.86 899.61H421.46" stroke="#1c1c1c" stroke-width="1" fill="none"/>
<rect x="433.81" y="872.25" width="14.5" height="214.35" fill="#ff9500" stroke="#0a0a0a" stroke-width="1.15"/>
<path d="M441.06 855.97V886.89M437.26 855.97H444.86M437.26 886.89H444.86" stroke="#1c1c1c" stroke-width="1" fill="none"/>
<rect x="457.21" y="915.77" width="14.5" height="170.83" fill="#ff5a52" stroke="#0a0a0a" stroke-width="1.15"/>
<path d="M461.16 915.47H467.76" stroke="#000" stroke-width="1.6" fill="none"/>
<rect x="497.24" y="922.96" width="14.5" height="163.64" fill="#0433ff" stroke="#0a0a0a" stroke-width="1.15"/>
<path d="M501.19 922.66H507.79" stroke="#000" stroke-width="1.6" fill="none"/>
<rect x="520.64" y="893.06" width="14.5" height="193.54" fill="#00c000" stroke="#0a0a0a" stroke-width="1.15"/>
<path d="M527.89 880.57V904.3M524.09 880.57H531.69M524.09 904.3H531.69" stroke="#1c1c1c" stroke-width="1" fill="none"/>
<rect x="544.04" y="838.94" width="14.5" height="247.66" fill="#ff9500" stroke="#0a0a0a" stroke-width="1.15"/>
<path d="M551.29 832.51V844.73M547.49 832.51H555.09M547.49 844.73H555.09" stroke="#1c1c1c" stroke-width="1" fill="none"/>
<rect x="567.44" y="905.55" width="14.5" height="181.05" fill="#ff5a52" stroke="#0a0a0a" stroke-width="1.15"/>
<path d="M571.39 905.25H577.99" stroke="#000" stroke-width="1.6" fill="none"/>
<rect x="607.47" y="924.1" width="14.5" height="162.5" fill="#0433ff" stroke="#0a0a0a" stroke-width="1.15"/>
<path d="M611.42 923.8H618.02" stroke="#000" stroke-width="1.6" fill="none"/>
<rect x="630.87" y="902.9" width="14.5" height="183.7" fill="#00c000" stroke="#0a0a0a" stroke-width="1.15"/>
<path d="M638.12 894.58V910.4M634.32 894.58H641.92M634.32 910.4H641.92" stroke="#1c1c1c" stroke-width="1" fill="none"/>
<rect x="654.27" y="871.11" width="14.5" height="215.49" fill="#ff9500" stroke="#0a0a0a" stroke-width="1.15"/>
<path d="M661.52 857.87V883.03M657.72 857.87H665.32M657.72 883.03H665.32" stroke="#1c1c1c" stroke-width="1" fill="none"/>
<rect x="677.67" y="907.07" width="14.5" height="179.53" fill="#ff5a52" stroke="#0a0a0a" stroke-width="1.15"/>
<path d="M684.92 902.53V911.15M681.12 902.53H688.72M681.12 911.15H688.72" stroke="#1c1c1c" stroke-width="1" fill="none"/>
<rect x="717.7" y="923.34" width="14.5" height="163.26" fill="#0433ff" stroke="#0a0a0a" stroke-width="1.15"/>
<path d="M724.95 917.66V928.45M721.15 917.66H728.75M721.15 928.45H728.75" stroke="#1c1c1c" stroke-width="1" fill="none"/>
<rect x="741.1" y="890.79" width="14.5" height="195.81" fill="#00c000" stroke="#0a0a0a" stroke-width="1.15"/>
<path d="M748.35 885.49V895.56M744.55 885.49H752.15M744.55 895.56H752.15" stroke="#1c1c1c" stroke-width="1" fill="none"/>
<rect x="764.5" y="860.89" width="14.5" height="225.71" fill="#ff9500" stroke="#0a0a0a" stroke-width="1.15"/>
<path d="M771.75 852.95V868.05M767.95 852.95H775.55M767.95 868.05H775.55" stroke="#1c1c1c" stroke-width="1" fill="none"/>
<rect x="787.9" y="909.72" width="14.5" height="176.88" fill="#ff5a52" stroke="#0a0a0a" stroke-width="1.15"/>
<path d="M795.15 906.31V912.78M791.35 906.31H798.95M791.35 912.78H798.95" stroke="#1c1c1c" stroke-width="1" fill="none"/>
<rect x="827.93" y="927.88" width="14.5" height="158.72" fill="#0433ff" stroke="#0a0a0a" stroke-width="1.15"/>
<path d="M835.18 926.37V929.25M831.38 926.37H838.98M831.38 929.25H838.98" stroke="#1c1c1c" stroke-width="1" fill="none"/>
<rect x="851.33" y="907.82" width="14.5" height="178.78" fill="#00c000" stroke="#0a0a0a" stroke-width="1.15"/>
<path d="M858.58 905.17V910.21M854.78 905.17H862.38M854.78 910.21H862.38" stroke="#1c1c1c" stroke-width="1" fill="none"/>
<rect x="874.73" y="885.49" width="14.5" height="201.11" fill="#ff9500" stroke="#0a0a0a" stroke-width="1.15"/>
<path d="M881.98 880.57V889.92M878.18 880.57H885.78M878.18 889.92H885.78" stroke="#1c1c1c" stroke-width="1" fill="none"/>
<rect x="898.13" y="908.2" width="14.5" height="178.4" fill="#ff5a52" stroke="#0a0a0a" stroke-width="1.15"/>
<path d="M905.38 902.53V913.31M901.58 902.53H909.18M901.58 913.31H909.18" stroke="#1c1c1c" stroke-width="1" fill="none"/>
<rect x="938.16" y="921.45" width="14.5" height="165.15" fill="#0433ff" stroke="#0a0a0a" stroke-width="1.15"/>
<path d="M945.41 913.5V928.6M941.61 913.5H949.21M941.61 928.6H949.21" stroke="#1c1c1c" stroke-width="1" fill="none"/>
<rect x="961.56" y="893.82" width="14.5" height="192.78" fill="#00c000" stroke="#0a0a0a" stroke-width="1.15"/>
<path d="M968.81 887.39V899.61M965.01 887.39H972.61M965.01 899.61H972.61" stroke="#1c1c1c" stroke-width="1" fill="none"/>
<rect x="984.96" y="880.95" width="14.5" height="205.65" fill="#ff9500" stroke="#0a0a0a" stroke-width="1.15"/>
<path d="M992.21 855.97V903.43M988.41 855.97H996.01M988.41 903.43H996.01" stroke="#1c1c1c" stroke-width="1" fill="none"/>
<rect x="1008.36" y="908.2" width="14.5" height="178.4" fill="#ff5a52" stroke="#0a0a0a" stroke-width="1.15"/>
<path d="M1015.61 903.66V912.29M1011.81 903.66H1019.41M1011.81 912.29H1019.41" stroke="#1c1c1c" stroke-width="1" fill="none"/>
<rect x="1048.39" y="926.75" width="14.5" height="159.85" fill="#0433ff" stroke="#0a0a0a" stroke-width="1.15"/>
<path d="M1055.64 922.96V930.15M1051.84 922.96H1059.44M1051.84 930.15H1059.44" stroke="#1c1c1c" stroke-width="1" fill="none"/>
<rect x="1071.79" y="901.01" width="14.5" height="185.59" fill="#00c000" stroke="#0a0a0a" stroke-width="1.15"/>
<path d="M1079.04 893.06V908.16M1075.24 893.06H1082.84M1075.24 908.16H1082.84" stroke="#1c1c1c" stroke-width="1" fill="none"/>
<rect x="1095.19" y="852.95" width="14.5" height="233.65" fill="#ff9500" stroke="#0a0a0a" stroke-width="1.15"/>
<path d="M1102.44 845V860.1M1098.64 845H1106.24M1098.64 860.1H1106.24" stroke="#1c1c1c" stroke-width="1" fill="none"/>
<rect x="1118.59" y="911.23" width="14.5" height="175.37" fill="#ff5a52" stroke="#0a0a0a" stroke-width="1.15"/>
<path d="M1125.84 906.69V915.32M1122.04 906.69H1129.64M1122.04 915.32H1129.64" stroke="#1c1c1c" stroke-width="1" fill="none"/>
<rect x="1158.62" y="929.4" width="14.5" height="157.2" fill="#0433ff" stroke="#0a0a0a" stroke-width="1.15"/>
<path d="M1165.87 927.5V931.1M1162.07 927.5H1169.67M1162.07 931.1H1169.67" stroke="#1c1c1c" stroke-width="1" fill="none"/>
<rect x="1182.02" y="897.23" width="14.5" height="189.37" fill="#00c000" stroke="#0a0a0a" stroke-width="1.15"/>
<path d="M1189.27 890.04V903.7M1185.47 890.04H1193.07M1185.47 903.7H1193.07" stroke="#1c1c1c" stroke-width="1" fill="none"/>
<rect x="1205.42" y="858.62" width="14.5" height="227.98" fill="#ff9500" stroke="#0a0a0a" stroke-width="1.15"/>
<path d="M1212.67 852.19V864.41M1208.87 852.19H1216.47M1208.87 864.41H1216.47" stroke="#1c1c1c" stroke-width="1" fill="none"/>
<rect x="1228.82" y="910.09" width="14.5" height="176.51" fill="#ff5a52" stroke="#0a0a0a" stroke-width="1.15"/>
<path d="M1236.07 905.17V914.52M1232.27 905.17H1239.87M1232.27 914.52H1239.87" stroke="#1c1c1c" stroke-width="1" fill="none"/>
<path d="M157.7 775.6V1086.6" stroke="#000" stroke-width="4" fill="none"/>
<path d="M142.6 1086.6H1252.8" stroke="#000" stroke-width="4" fill="none"/>
<text transform="translate(141 785.61) scale(0.97 1)" font-family="'Liberation Sans', sans-serif" font-size="23.2" font-weight="bold" text-anchor="end" fill="#000" stroke="#000" stroke-width="0.5" stroke-linejoin="round">200</text>
<text transform="translate(141 862.93) scale(0.97 1)" font-family="'Liberation Sans', sans-serif" font-size="23.2" font-weight="bold" text-anchor="end" fill="#000" stroke="#000" stroke-width="0.5" stroke-linejoin="round">150</text>
<text transform="translate(141 940.26) scale(0.97 1)" font-family="'Liberation Sans', sans-serif" font-size="23.2" font-weight="bold" text-anchor="end" fill="#000" stroke="#000" stroke-width="0.5" stroke-linejoin="round">100</text>
<text transform="translate(141 1017.58) scale(0.97 1)" font-family="'Liberation Sans', sans-serif" font-size="23.2" font-weight="bold" text-anchor="end" fill="#000" stroke="#000" stroke-width="0.5" stroke-linejoin="round">50</text>
<text transform="translate(141 1094.91) scale(0.97 1)" font-family="'Liberation Sans', sans-serif" font-size="23.2" font-weight="bold" text-anchor="end" fill="#000" stroke="#000" stroke-width="0.5" stroke-linejoin="round">0</text>
<path d="M142.6 777.3H157.7M142.6 854.62H157.7M142.6 931.95H157.7M142.6 1009.27H157.7" stroke="#000" stroke-width="3.5" fill="none"/>
<text transform="translate(208.9 1121.1) scale(1.13 1)" font-family="'Liberation Sans', sans-serif" font-size="19.8" font-weight="bold" text-anchor="middle" fill="#000" stroke="#000" stroke-width="0.5" stroke-linejoin="round">1</text>
<text transform="translate(319.13 1121.1) scale(1.13 1)" font-family="'Liberation Sans', sans-serif" font-size="19.8" font-weight="bold" text-anchor="middle" fill="#000" stroke="#000" stroke-width="0.5" stroke-linejoin="round">2</text>
<text transform="translate(429.36 1121.1) scale(1.13 1)" font-family="'Liberation Sans', sans-serif" font-size="19.8" font-weight="bold" text-anchor="middle" fill="#000" stroke="#000" stroke-width="0.5" stroke-linejoin="round">3</text>
<text transform="translate(539.59 1121.1) scale(1.13 1)" font-family="'Liberation Sans', sans-serif" font-size="19.8" font-weight="bold" text-anchor="middle" fill="#000" stroke="#000" stroke-width="0.5" stroke-linejoin="round">4</text>
<text transform="translate(649.82 1121.1) scale(1.13 1)" font-family="'Liberation Sans', sans-serif" font-size="19.8" font-weight="bold" text-anchor="middle" fill="#000" stroke="#000" stroke-width="0.5" stroke-linejoin="round">5</text>
<text transform="translate(760.05 1121.1) scale(1.13 1)" font-family="'Liberation Sans', sans-serif" font-size="19.8" font-weight="bold" text-anchor="middle" fill="#000" stroke="#000" stroke-width="0.5" stroke-linejoin="round">6</text>
<text transform="translate(870.28 1121.1) scale(1.13 1)" font-family="'Liberation Sans', sans-serif" font-size="19.8" font-weight="bold" text-anchor="middle" fill="#000" stroke="#000" stroke-width="0.5" stroke-linejoin="round">7</text>
<text transform="translate(980.51 1121.1) scale(1.13 1)" font-family="'Liberation Sans', sans-serif" font-size="19.8" font-weight="bold" text-anchor="middle" fill="#000" stroke="#000" stroke-width="0.5" stroke-linejoin="round">8</text>
<text transform="translate(1090.74 1121.1) scale(1.13 1)" font-family="'Liberation Sans', sans-serif" font-size="19.8" font-weight="bold" text-anchor="middle" fill="#000" stroke="#000" stroke-width="0.5" stroke-linejoin="round">9</text>
<text transform="translate(1200.97 1121.1) scale(1.13 1)" font-family="'Liberation Sans', sans-serif" font-size="19.8" font-weight="bold" text-anchor="middle" fill="#000" stroke="#000" stroke-width="0.5" stroke-linejoin="round">10</text>
<path d="M208.9 1086.6V1101.4M319.13 1086.6V1101.4M429.36 1086.6V1101.4M539.59 1086.6V1101.4M649.82 1086.6V1101.4M760.05 1086.6V1101.4M870.28 1086.6V1101.4M980.51 1086.6V1101.4M1090.74 1086.6V1101.4M1200.97 1086.6V1101.4" stroke="#000" stroke-width="4" fill="none"/>
<text transform="translate(705.2 1142) scale(0.97 1)" font-family="'Liberation Sans', sans-serif" font-size="24.82" font-weight="bold" text-anchor="middle" fill="#000" stroke="#000" stroke-width="0.5" stroke-linejoin="round">Day</text>
<text transform="translate(88.12 932.25) rotate(-90) scale(1 1.05)" font-family="'Liberation Sans', sans-serif" font-size="22.42" font-weight="normal" text-anchor="middle" fill="#000" stroke="#000" stroke-width="1.1" stroke-linejoin="round">Fluorescence Intensity (A.U.)</text>
<text transform="translate(3.11 792.3) scale(1.12 1)" font-family="'DejaVu Sans', sans-serif" font-size="44.5" font-weight="bold" text-anchor="start" fill="#000">c<tspan x="24.25">.</tspan></text>
</g>
<g>
<rect x="165.75" y="1304.86" width="14.5" height="152.54" fill="#0433ff" stroke="#0a0a0a" stroke-width="1.15"/>
<path d="M173 1301.45V1307.92M169.2 1301.45H176.8M169.2 1307.92H176.8" stroke="#1c1c1c" stroke-width="1" fill="none"/>
<rect x="189.15" y="1266.25" width="14.5" height="191.15" fill="#00c000" stroke="#0a0a0a" stroke-width="1.15"/>
<path d="M196.4 1263.22V1268.98M192.6 1263.22H200.2M192.6 1268.98H200.2" stroke="#1c1c1c" stroke-width="1" fill="none"/>
<rect x="212.55" y="1226.89" width="14.5" height="230.51" fill="#ff9500" stroke="#0a0a0a" stroke-width="1.15"/>
<path d="M219.8 1221.97V1231.32M216 1221.97H223.6M216 1231.32H223.6" stroke="#1c1c1c" stroke-width="1" fill="none"/>
<rect x="235.95" y="1285.55" width="14.5" height="171.85" fill="#ff5a52" stroke="#0a0a0a" stroke-width="1.15"/>
<path d="M243.2 1281.01V1289.64M239.4 1281.01H247M239.4 1289.64H247" stroke="#1c1c1c" stroke-width="1" fill="none"/>
<rect x="274.43" y="1301.83" width="14.5" height="155.57" fill="#0433ff" stroke="#0a0a0a" stroke-width="1.15"/>
<path d="M281.68 1295.77V1307.28M277.88 1295.77H285.48M277.88 1307.28H285.48" stroke="#1c1c1c" stroke-width="1" fill="none"/>
<rect x="297.83" y="1262.84" width="14.5" height="194.56" fill="#00c000" stroke="#0a0a0a" stroke-width="1.15"/>
<path d="M305.08 1255.65V1269.32M301.28 1255.65H308.88M301.28 1269.32H308.88" stroke="#1c1c1c" stroke-width="1" fill="none"/>
<rect x="321.23" y="1235.22" width="14.5" height="222.18" fill="#ff9500" stroke="#0a0a0a" stroke-width="1.15"/>
<path d="M328.48 1230.67V1239.3M324.68 1230.67H332.28M324.68 1239.3H332.28" stroke="#1c1c1c" stroke-width="1" fill="none"/>
<rect x="344.63" y="1283.66" width="14.5" height="173.74" fill="#ff5a52" stroke="#0a0a0a" stroke-width="1.15"/>
<path d="M351.88 1277.98V1288.77M348.08 1277.98H355.68M348.08 1288.77H355.68" stroke="#1c1c1c" stroke-width="1" fill="none"/>
<rect x="383.11" y="1304.48" width="14.5" height="152.92" fill="#0433ff" stroke="#0a0a0a" stroke-width="1.15"/>
<path d="M390.36 1298.42V1309.93M386.56 1298.42H394.16M386.56 1309.93H394.16" stroke="#1c1c1c" stroke-width="1" fill="none"/>
<rect x="406.51" y="1277.6" width="14.5" height="179.8" fill="#00c000" stroke="#0a0a0a" stroke-width="1.15"/>
<path d="M413.76 1272.31V1282.37M409.96 1272.31H417.56M409.96 1282.37H417.56" stroke="#1c1c1c" stroke-width="1" fill="none"/>
<rect x="429.91" y="1229.54" width="14.5" height="227.86" fill="#ff9500" stroke="#0a0a0a" stroke-width="1.15"/>
<path d="M437.16 1225V1233.63M433.36 1225H440.96M433.36 1233.63H440.96" stroke="#1c1c1c" stroke-width="1" fill="none"/>
<rect x="453.31" y="1277.98" width="14.5" height="179.42" fill="#ff5a52" stroke="#0a0a0a" stroke-width="1.15"/>
<path d="M460.56 1273.82V1281.73M456.76 1273.82H464.36M456.76 1281.73H464.36" stroke="#1c1c1c" stroke-width="1" fill="none"/>
<rect x="491.79" y="1306.37" width="14.5" height="151.03" fill="#0433ff" stroke="#0a0a0a" stroke-width="1.15"/>
<path d="M499.04 1301.83V1310.46M495.24 1301.83H502.84M495.24 1310.46H502.84" stroke="#1c1c1c" stroke-width="1" fill="none"/>
<rect x="515.19" y="1257.55" width="14.5" height="199.85" fill="#00c000" stroke="#0a0a0a" stroke-width="1.15"/>
<path d="M522.44 1255.27V1259.59M518.64 1255.27H526.24M518.64 1259.59H526.24" stroke="#1c1c1c" stroke-width="1" fill="none"/>
<rect x="538.59" y="1227.27" width="14.5" height="230.13" fill="#ff9500" stroke="#0a0a0a" stroke-width="1.15"/>
<path d="M545.84 1221.59V1232.38M542.04 1221.59H549.64M542.04 1232.38H549.64" stroke="#1c1c1c" stroke-width="1" fill="none"/>
<rect x="561.99" y="1275.71" width="14.5" height="181.69" fill="#ff5a52" stroke="#0a0a0a" stroke-width="1.15"/>
<path d="M565.94 1275.41H572.54" stroke="#000" stroke-width="1.6" fill="none"/>
<rect x="600.47" y="1303.34" width="14.5" height="154.06" fill="#0433ff" stroke="#0a0a0a" stroke-width="1.15"/>
<path d="M607.72 1298.8V1307.43M603.92 1298.8H611.52M603.92 1307.43H611.52" stroke="#1c1c1c" stroke-width="1" fill="none"/>
<rect x="623.87" y="1275.33" width="14.5" height="182.07" fill="#00c000" stroke="#0a0a0a" stroke-width="1.15"/>
<path d="M631.12 1271.55V1278.74M627.32 1271.55H634.92M627.32 1278.74H634.92" stroke="#1c1c1c" stroke-width="1" fill="none"/>
<rect x="647.27" y="1228.02" width="14.5" height="229.38" fill="#ff9500" stroke="#0a0a0a" stroke-width="1.15"/>
<path d="M654.52 1217.43V1237.56M650.72 1217.43H658.32M650.72 1237.56H658.32" stroke="#1c1c1c" stroke-width="1" fill="none"/>
<rect x="670.67" y="1288.58" width="14.5" height="168.82" fill="#ff5a52" stroke="#0a0a0a" stroke-width="1.15"/>
<path d="M677.92 1282.9V1293.69M674.12 1282.9H681.72M674.12 1293.69H681.72" stroke="#1c1c1c" stroke-width="1" fill="none"/>
<rect x="709.15" y="1303.34" width="14.5" height="154.06" fill="#0433ff" stroke="#0a0a0a" stroke-width="1.15"/>
<path d="M713.1 1303.04H719.7" stroke="#000" stroke-width="1.6" fill="none"/>
<rect x="732.55" y="1268.9" width="14.5" height="188.5" fill="#00c000" stroke="#0a0a0a" stroke-width="1.15"/>
<path d="M739.8 1267.01V1270.6M736 1267.01H743.6M736 1270.6H743.6" stroke="#1c1c1c" stroke-width="1" fill="none"/>
<rect x="755.95" y="1246.57" width="14.5" height="210.83" fill="#ff9500" stroke="#0a0a0a" stroke-width="1.15"/>
<path d="M763.2 1227.65V1263.6M759.4 1227.65H767M759.4 1263.6H767" stroke="#1c1c1c" stroke-width="1" fill="none"/>
<rect x="779.35" y="1282.15" width="14.5" height="175.25" fill="#ff5a52" stroke="#0a0a0a" stroke-width="1.15"/>
<path d="M786.6 1272.31V1291M782.8 1272.31H790.4M782.8 1291H790.4" stroke="#1c1c1c" stroke-width="1" fill="none"/>
<rect x="817.83" y="1303.72" width="14.5" height="153.68" fill="#0433ff" stroke="#0a0a0a" stroke-width="1.15"/>
<path d="M825.08 1299.93V1307.13M821.28 1299.93H828.88M821.28 1307.13H828.88" stroke="#1c1c1c" stroke-width="1" fill="none"/>
<rect x="841.23" y="1277.6" width="14.5" height="179.8" fill="#00c000" stroke="#0a0a0a" stroke-width="1.15"/>
<path d="M848.48 1271.17V1283.4M844.68 1271.17H852.28M844.68 1283.4H852.28" stroke="#1c1c1c" stroke-width="1" fill="none"/>
<rect x="864.63" y="1229.16" width="14.5" height="228.24" fill="#ff9500" stroke="#0a0a0a" stroke-width="1.15"/>
<path d="M871.88 1206.45V1249.6M868.08 1206.45H875.68M868.08 1249.6H875.68" stroke="#1c1c1c" stroke-width="1" fill="none"/>
<rect x="888.03" y="1270.79" width="14.5" height="186.61" fill="#ff5a52" stroke="#0a0a0a" stroke-width="1.15"/>
<path d="M895.28 1268.14V1273.18M891.48 1268.14H899.08M891.48 1273.18H899.08" stroke="#1c1c1c" stroke-width="1" fill="none"/>
<rect x="926.51" y="1302.96" width="14.5" height="154.44" fill="#0433ff" stroke="#0a0a0a" stroke-width="1.15"/>
<path d="M933.76 1294.64V1310.46M929.96 1294.64H937.56M929.96 1310.46H937.56" stroke="#1c1c1c" stroke-width="1" fill="none"/>
<rect x="949.91" y="1267.39" width="14.5" height="190.01" fill="#00c000" stroke="#0a0a0a" stroke-width="1.15"/>
<path d="M957.16 1259.06V1274.88M953.36 1259.06H960.96M953.36 1274.88H960.96" stroke="#1c1c1c" stroke-width="1" fill="none"/>
<rect x="973.31" y="1238.62" width="14.5" height="218.78" fill="#ff9500" stroke="#0a0a0a" stroke-width="1.15"/>
<path d="M980.56 1234.08V1242.71M976.76 1234.08H984.36M976.76 1242.71H984.36" stroke="#1c1c1c" stroke-width="1" fill="none"/>
<rect x="996.71" y="1286.31" width="14.5" height="171.09" fill="#ff5a52" stroke="#0a0a0a" stroke-width="1.15"/>
<path d="M1003.96 1279.5V1292.44M1000.16 1279.5H1007.76M1000.16 1292.44H1007.76" stroke="#1c1c1c" stroke-width="1" fill="none"/>
<rect x="1035.19" y="1304.48" width="14.5" height="152.92" fill="#0433ff" stroke="#0a0a0a" stroke-width="1.15"/>
<path d="M1042.44 1302.21V1306.52M1038.64 1302.21H1046.24M1038.64 1306.52H1046.24" stroke="#1c1c1c" stroke-width="1" fill="none"/>
<rect x="1058.59" y="1259.06" width="14.5" height="198.34" fill="#00c000" stroke="#0a0a0a" stroke-width="1.15"/>
<path d="M1065.84 1254.9V1262.81M1062.04 1254.9H1069.64M1062.04 1262.81H1069.64" stroke="#1c1c1c" stroke-width="1" fill="none"/>
<rect x="1081.99" y="1241.27" width="14.5" height="216.13" fill="#ff9500" stroke="#0a0a0a" stroke-width="1.15"/>
<path d="M1089.24 1236.73V1245.36M1085.44 1236.73H1093.04M1085.44 1245.36H1093.04" stroke="#1c1c1c" stroke-width="1" fill="none"/>
<rect x="1105.39" y="1276.09" width="14.5" height="181.31" fill="#ff5a52" stroke="#0a0a0a" stroke-width="1.15"/>
<path d="M1112.64 1270.04V1281.54M1108.84 1270.04H1116.44M1108.84 1281.54H1116.44" stroke="#1c1c1c" stroke-width="1" fill="none"/>
<rect x="1143.87" y="1303.72" width="14.5" height="153.68" fill="#0433ff" stroke="#0a0a0a" stroke-width="1.15"/>
<path d="M1151.12 1299.93V1307.13M1147.32 1299.93H1154.92M1147.32 1307.13H1154.92" stroke="#1c1c1c" stroke-width="1" fill="none"/>
<rect x="1167.27" y="1272.31" width="14.5" height="185.09" fill="#00c000" stroke="#0a0a0a" stroke-width="1.15"/>
<path d="M1174.52 1264.36V1279.46M1170.72 1264.36H1178.32M1170.72 1279.46H1178.32" stroke="#1c1c1c" stroke-width="1" fill="none"/>
<rect x="1190.67" y="1230.67" width="14.5" height="226.73" fill="#ff9500" stroke="#0a0a0a" stroke-width="1.15"/>
<path d="M1194.62 1230.37H1201.22" stroke="#000" stroke-width="1.6" fill="none"/>
<rect x="1214.07" y="1279.5" width="14.5" height="177.9" fill="#ff5a52" stroke="#0a0a0a" stroke-width="1.15"/>
<path d="M1221.32 1275.33V1283.24M1217.52 1275.33H1225.12M1217.52 1283.24H1225.12" stroke="#1c1c1c" stroke-width="1" fill="none"/>
<path d="M157.7 1159.5V1457.4" stroke="#000" stroke-width="4" fill="none"/>
<path d="M142.6 1457.4H1236.9" stroke="#000" stroke-width="4" fill="none"/>
<text transform="translate(141 1169.51) scale(0.97 1)" font-family="'Liberation Sans', sans-serif" font-size="23.2" font-weight="bold" text-anchor="end" fill="#000" stroke="#000" stroke-width="0.5" stroke-linejoin="round">200</text>
<text transform="translate(141 1243.56) scale(0.97 1)" font-family="'Liberation Sans', sans-serif" font-size="23.2" font-weight="bold" text-anchor="end" fill="#000" stroke="#000" stroke-width="0.5" stroke-linejoin="round">150</text>
<text transform="translate(141 1317.61) scale(0.97 1)" font-family="'Liberation Sans', sans-serif" font-size="23.2" font-weight="bold" text-anchor="end" fill="#000" stroke="#000" stroke-width="0.5" stroke-linejoin="round">100</text>
<text transform="translate(141 1391.66) scale(0.97 1)" font-family="'Liberation Sans', sans-serif" font-size="23.2" font-weight="bold" text-anchor="end" fill="#000" stroke="#000" stroke-width="0.5" stroke-linejoin="round">50</text>
<text transform="translate(141 1465.71) scale(0.97 1)" font-family="'Liberation Sans', sans-serif" font-size="23.2" font-weight="bold" text-anchor="end" fill="#000" stroke="#000" stroke-width="0.5" stroke-linejoin="round">0</text>
<path d="M142.6 1161.2H157.7M142.6 1235.25H157.7M142.6 1309.3H157.7M142.6 1383.35H157.7" stroke="#000" stroke-width="3.5" fill="none"/>
<text transform="translate(208.1 1491.9) scale(1.13 1)" font-family="'Liberation Sans', sans-serif" font-size="19.8" font-weight="bold" text-anchor="middle" fill="#000" stroke="#000" stroke-width="0.5" stroke-linejoin="round">1</text>
<text transform="translate(316.78 1491.9) scale(1.13 1)" font-family="'Liberation Sans', sans-serif" font-size="19.8" font-weight="bold" text-anchor="middle" fill="#000" stroke="#000" stroke-width="0.5" stroke-linejoin="round">2</text>
<text transform="translate(425.46 1491.9) scale(1.13 1)" font-family="'Liberation Sans', sans-serif" font-size="19.8" font-weight="bold" text-anchor="middle" fill="#000" stroke="#000" stroke-width="0.5" stroke-linejoin="round">3</text>
<text transform="translate(534.14 1491.9) scale(1.13 1)" font-family="'Liberation Sans', sans-serif" font-size="19.8" font-weight="bold" text-anchor="middle" fill="#000" stroke="#000" stroke-width="0.5" stroke-linejoin="round">4</text>
<text transform="translate(642.82 1491.9) scale(1.13 1)" font-family="'Liberation Sans', sans-serif" font-size="19.8" font-weight="bold" text-anchor="middle" fill="#000" stroke="#000" stroke-width="0.5" stroke-linejoin="round">5</text>
<text transform="translate(751.5 1491.9) scale(1.13 1)" font-family="'Liberation Sans', sans-serif" font-size="19.8" font-weight="bold" text-anchor="middle" fill="#000" stroke="#000" stroke-width="0.5" stroke-linejoin="round">6</text>
<text transform="translate(860.18 1491.9) scale(1.13 1)" font-family="'Liberation Sans', sans-serif" font-size="19.8" font-weight="bold" text-anchor="middle" fill="#000" stroke="#000" stroke-width="0.5" stroke-linejoin="round">7</text>
<text transform="translate(968.86 1491.9) scale(1.13 1)" font-family="'Liberation Sans', sans-serif" font-size="19.8" font-weight="bold" text-anchor="middle" fill="#000" stroke="#000" stroke-width="0.5" stroke-linejoin="round">8</text>
<text transform="translate(1077.54 1491.9) scale(1.13 1)" font-family="'Liberation Sans', sans-serif" font-size="19.8" font-weight="bold" text-anchor="middle" fill="#000" stroke="#000" stroke-width="0.5" stroke-linejoin="round">9</text>
<text transform="translate(1186.22 1491.9) scale(1.13 1)" font-family="'Liberation Sans', sans-serif" font-size="19.8" font-weight="bold" text-anchor="middle" fill="#000" stroke="#000" stroke-width="0.5" stroke-linejoin="round">10</text>
<path d="M208.1 1457.4V1472.2M316.78 1457.4V1472.2M425.46 1457.4V1472.2M534.14 1457.4V1472.2M642.82 1457.4V1472.2M751.5 1457.4V1472.2M860.18 1457.4V1472.2M968.86 1457.4V1472.2M1077.54 1457.4V1472.2M1186.22 1457.4V1472.2" stroke="#000" stroke-width="4" fill="none"/>
<text transform="translate(696.5 1517.5) scale(0.97 1)" font-family="'Liberation Sans', sans-serif" font-size="24.82" font-weight="bold" text-anchor="middle" fill="#000" stroke="#000" stroke-width="0.5" stroke-linejoin="round">Day</text>
<text transform="translate(86.38 1309.65) rotate(-90) scale(1 1.09)" font-family="'Liberation Sans', sans-serif" font-size="23.56" font-weight="normal" text-anchor="middle" fill="#000" stroke="#000" stroke-width="1.1" stroke-linejoin="round">Fluorescence Intensity (A.U.)</text>
<text transform="translate(3.37 1180.3)" font-family="'DejaVu Sans', sans-serif" font-size="44.5" font-weight="bold" text-anchor="start" fill="#000">d<tspan x="29.74">.</tspan></text>
</g>
<g>
<rect x="165.55" y="1685.23" width="14.5" height="155.77" fill="#0433ff" stroke="#0a0a0a" stroke-width="1.15"/>
<path d="M172.8 1682.21V1687.96M169 1682.21H176.6M169 1687.96H176.6" stroke="#1c1c1c" stroke-width="1" fill="none"/>
<rect x="188.95" y="1663.28" width="14.5" height="177.72" fill="#00c000" stroke="#0a0a0a" stroke-width="1.15"/>
<path d="M196.2 1661.39V1664.99M192.4 1661.39H200M192.4 1664.99H200" stroke="#1c1c1c" stroke-width="1" fill="none"/>
<rect x="212.35" y="1645.12" width="14.5" height="195.88" fill="#ff9500" stroke="#0a0a0a" stroke-width="1.15"/>
<path d="M219.6 1643.6V1646.48M215.8 1643.6H223.4M215.8 1646.48H223.4" stroke="#1c1c1c" stroke-width="1" fill="none"/>
<rect x="235.75" y="1665.17" width="14.5" height="175.83" fill="#ff5a52" stroke="#0a0a0a" stroke-width="1.15"/>
<path d="M243 1660.63V1669.26M239.2 1660.63H246.8M239.2 1669.26H246.8" stroke="#1c1c1c" stroke-width="1" fill="none"/>
<rect x="274.83" y="1682.96" width="14.5" height="158.04" fill="#0433ff" stroke="#0a0a0a" stroke-width="1.15"/>
<path d="M282.08 1679.18V1686.37M278.28 1679.18H285.88M278.28 1686.37H285.88" stroke="#1c1c1c" stroke-width="1" fill="none"/>
<rect x="298.23" y="1668.96" width="14.5" height="172.04" fill="#00c000" stroke="#0a0a0a" stroke-width="1.15"/>
<path d="M305.48 1667.45V1670.32M301.68 1667.45H309.28M301.68 1670.32H309.28" stroke="#1c1c1c" stroke-width="1" fill="none"/>
<rect x="321.63" y="1628.08" width="14.5" height="212.92" fill="#ff9500" stroke="#0a0a0a" stroke-width="1.15"/>
<path d="M328.88 1623.16V1632.51M325.08 1623.16H332.68M325.08 1632.51H332.68" stroke="#1c1c1c" stroke-width="1" fill="none"/>
<rect x="345.03" y="1673.88" width="14.5" height="167.12" fill="#ff5a52" stroke="#0a0a0a" stroke-width="1.15"/>
<path d="M352.28 1671.99V1675.58M348.48 1671.99H356.08M348.48 1675.58H356.08" stroke="#1c1c1c" stroke-width="1" fill="none"/>
<rect x="384.11" y="1682.96" width="14.5" height="158.04" fill="#0433ff" stroke="#0a0a0a" stroke-width="1.15"/>
<path d="M391.36 1677.29V1688.07M387.56 1677.29H395.16M387.56 1688.07H395.16" stroke="#1c1c1c" stroke-width="1" fill="none"/>
<rect x="407.51" y="1658.74" width="14.5" height="182.26" fill="#00c000" stroke="#0a0a0a" stroke-width="1.15"/>
<path d="M414.76 1641.33V1674.41M410.96 1641.33H418.56M410.96 1674.41H418.56" stroke="#1c1c1c" stroke-width="1" fill="none"/>
<rect x="430.91" y="1632.63" width="14.5" height="208.37" fill="#ff9500" stroke="#0a0a0a" stroke-width="1.15"/>
<path d="M438.16 1629.6V1635.35M434.36 1629.6H441.96M434.36 1635.35H441.96" stroke="#1c1c1c" stroke-width="1" fill="none"/>
<rect x="454.31" y="1665.17" width="14.5" height="175.83" fill="#ff5a52" stroke="#0a0a0a" stroke-width="1.15"/>
<path d="M461.56 1660.63V1669.26M457.76 1660.63H465.36M457.76 1669.26H465.36" stroke="#1c1c1c" stroke-width="1" fill="none"/>
<rect x="493.39" y="1689.4" width="14.5" height="151.6" fill="#0433ff" stroke="#0a0a0a" stroke-width="1.15"/>
<path d="M497.34 1689.1H503.94" stroke="#000" stroke-width="1.6" fill="none"/>
<rect x="516.79" y="1657.23" width="14.5" height="183.77" fill="#00c000" stroke="#0a0a0a" stroke-width="1.15"/>
<path d="M524.04 1645.49V1667.79M520.24 1645.49H527.84M520.24 1667.79H527.84" stroke="#1c1c1c" stroke-width="1" fill="none"/>
<rect x="540.19" y="1646.25" width="14.5" height="194.75" fill="#ff9500" stroke="#0a0a0a" stroke-width="1.15"/>
<path d="M547.44 1633.76V1657.49M543.64 1633.76H551.24M543.64 1657.49H551.24" stroke="#1c1c1c" stroke-width="1" fill="none"/>
<rect x="563.59" y="1668.2" width="14.5" height="172.8" fill="#ff5a52" stroke="#0a0a0a" stroke-width="1.15"/>
<path d="M570.84 1664.04V1671.95M567.04 1664.04H574.64M567.04 1671.95H574.64" stroke="#1c1c1c" stroke-width="1" fill="none"/>
<rect x="602.67" y="1679.93" width="14.5" height="161.07" fill="#0433ff" stroke="#0a0a0a" stroke-width="1.15"/>
<path d="M609.92 1677.66V1681.98M606.12 1677.66H613.72M606.12 1681.98H613.72" stroke="#1c1c1c" stroke-width="1" fill="none"/>
<rect x="626.07" y="1647.76" width="14.5" height="193.24" fill="#00c000" stroke="#0a0a0a" stroke-width="1.15"/>
<path d="M633.32 1644.74V1650.49M629.52 1644.74H637.12M629.52 1650.49H637.12" stroke="#1c1c1c" stroke-width="1" fill="none"/>
<rect x="649.47" y="1634.14" width="14.5" height="206.86" fill="#ff9500" stroke="#0a0a0a" stroke-width="1.15"/>
<path d="M656.72 1629.6V1638.23M652.92 1629.6H660.52M652.92 1638.23H660.52" stroke="#1c1c1c" stroke-width="1" fill="none"/>
<rect x="672.87" y="1668.2" width="14.5" height="172.8" fill="#ff5a52" stroke="#0a0a0a" stroke-width="1.15"/>
<path d="M680.12 1662.15V1673.65M676.32 1662.15H683.92M676.32 1673.65H683.92" stroke="#1c1c1c" stroke-width="1" fill="none"/>
<rect x="711.95" y="1684.1" width="14.5" height="156.9" fill="#0433ff" stroke="#0a0a0a" stroke-width="1.15"/>
<path d="M719.2 1682.21V1685.8M715.4 1682.21H723M715.4 1685.8H723" stroke="#1c1c1c" stroke-width="1" fill="none"/>
<rect x="735.35" y="1652.68" width="14.5" height="188.32" fill="#00c000" stroke="#0a0a0a" stroke-width="1.15"/>
<path d="M742.6 1647.01V1657.79M738.8 1647.01H746.4M738.8 1657.79H746.4" stroke="#1c1c1c" stroke-width="1" fill="none"/>
<rect x="758.75" y="1631.87" width="14.5" height="209.13" fill="#ff9500" stroke="#0a0a0a" stroke-width="1.15"/>
<path d="M766 1627.71V1635.62M762.2 1627.71H769.8M762.2 1635.62H769.8" stroke="#1c1c1c" stroke-width="1" fill="none"/>
<rect x="782.15" y="1668.58" width="14.5" height="172.42" fill="#ff5a52" stroke="#0a0a0a" stroke-width="1.15"/>
<path d="M789.4 1665.17V1671.65M785.6 1665.17H793.2M785.6 1671.65H793.2" stroke="#1c1c1c" stroke-width="1" fill="none"/>
<rect x="821.23" y="1682.96" width="14.5" height="158.04" fill="#0433ff" stroke="#0a0a0a" stroke-width="1.15"/>
<path d="M828.48 1677.66V1687.73M824.68 1677.66H832.28M824.68 1687.73H832.28" stroke="#1c1c1c" stroke-width="1" fill="none"/>
<rect x="844.63" y="1635.65" width="14.5" height="205.35" fill="#00c000" stroke="#0a0a0a" stroke-width="1.15"/>
<path d="M851.88 1622.79V1647.23M848.08 1622.79H855.68M848.08 1647.23H855.68" stroke="#1c1c1c" stroke-width="1" fill="none"/>
<rect x="868.03" y="1637.55" width="14.5" height="203.45" fill="#ff9500" stroke="#0a0a0a" stroke-width="1.15"/>
<path d="M875.28 1627.71V1646.4M871.48 1627.71H879.08M871.48 1646.4H879.08" stroke="#1c1c1c" stroke-width="1" fill="none"/>
<rect x="891.43" y="1666.31" width="14.5" height="174.69" fill="#ff5a52" stroke="#0a0a0a" stroke-width="1.15"/>
<path d="M898.68 1664.42V1668.01M894.88 1664.42H902.48M894.88 1668.01H902.48" stroke="#1c1c1c" stroke-width="1" fill="none"/>
<rect x="930.51" y="1685.99" width="14.5" height="155.01" fill="#0433ff" stroke="#0a0a0a" stroke-width="1.15"/>
<path d="M937.76 1684.1V1687.69M933.96 1684.1H941.56M933.96 1687.69H941.56" stroke="#1c1c1c" stroke-width="1" fill="none"/>
<rect x="953.91" y="1661.77" width="14.5" height="179.23" fill="#00c000" stroke="#0a0a0a" stroke-width="1.15"/>
<path d="M961.16 1659.88V1663.47M957.36 1659.88H964.96M957.36 1663.47H964.96" stroke="#1c1c1c" stroke-width="1" fill="none"/>
<rect x="977.31" y="1635.27" width="14.5" height="205.73" fill="#ff9500" stroke="#0a0a0a" stroke-width="1.15"/>
<path d="M984.56 1623.16V1646.18M980.76 1623.16H988.36M980.76 1646.18H988.36" stroke="#1c1c1c" stroke-width="1" fill="none"/>
<rect x="1000.71" y="1667.45" width="14.5" height="173.55" fill="#ff5a52" stroke="#0a0a0a" stroke-width="1.15"/>
<path d="M1007.96 1659.12V1674.94M1004.16 1659.12H1011.76M1004.16 1674.94H1011.76" stroke="#1c1c1c" stroke-width="1" fill="none"/>
<rect x="1039.79" y="1684.86" width="14.5" height="156.14" fill="#0433ff" stroke="#0a0a0a" stroke-width="1.15"/>
<path d="M1043.74 1684.56H1050.34" stroke="#000" stroke-width="1.6" fill="none"/>
<rect x="1063.19" y="1666.31" width="14.5" height="174.69" fill="#00c000" stroke="#0a0a0a" stroke-width="1.15"/>
<path d="M1070.44 1660.63V1671.42M1066.64 1660.63H1074.24M1066.64 1671.42H1074.24" stroke="#1c1c1c" stroke-width="1" fill="none"/>
<rect x="1086.59" y="1637.55" width="14.5" height="203.45" fill="#ff9500" stroke="#0a0a0a" stroke-width="1.15"/>
<path d="M1093.84 1633.38V1641.29M1090.04 1633.38H1097.64M1090.04 1641.29H1097.64" stroke="#1c1c1c" stroke-width="1" fill="none"/>
<rect x="1109.99" y="1671.23" width="14.5" height="169.77" fill="#ff5a52" stroke="#0a0a0a" stroke-width="1.15"/>
<path d="M1117.24 1664.04V1677.7M1113.44 1664.04H1121.04M1113.44 1677.7H1121.04" stroke="#1c1c1c" stroke-width="1" fill="none"/>
<rect x="1149.07" y="1682.21" width="14.5" height="158.79" fill="#0433ff" stroke="#0a0a0a" stroke-width="1.15"/>
<path d="M1153.02 1681.91H1159.62" stroke="#000" stroke-width="1.6" fill="none"/>
<rect x="1172.47" y="1654.2" width="14.5" height="186.8" fill="#00c000" stroke="#0a0a0a" stroke-width="1.15"/>
<path d="M1179.72 1650.41V1657.6M1175.92 1650.41H1183.52M1175.92 1657.6H1183.52" stroke="#1c1c1c" stroke-width="1" fill="none"/>
<rect x="1195.87" y="1639.44" width="14.5" height="201.56" fill="#ff9500" stroke="#0a0a0a" stroke-width="1.15"/>
<path d="M1203.12 1632.63V1645.57M1199.32 1632.63H1206.92M1199.32 1645.57H1206.92" stroke="#1c1c1c" stroke-width="1" fill="none"/>
<rect x="1219.27" y="1672.74" width="14.5" height="168.26" fill="#ff5a52" stroke="#0a0a0a" stroke-width="1.15"/>
<path d="M1226.52 1668.96V1676.15M1222.72 1668.96H1230.32M1222.72 1676.15H1230.32" stroke="#1c1c1c" stroke-width="1" fill="none"/>
<path d="M157.5 1536.5V1841" stroke="#000" stroke-width="4" fill="none"/>
<path d="M142.3 1841H1242.6" stroke="#000" stroke-width="4" fill="none"/>
<text transform="translate(140.7 1546.51) scale(0.97 1)" font-family="'Liberation Sans', sans-serif" font-size="23.2" font-weight="bold" text-anchor="end" fill="#000" stroke="#000" stroke-width="0.5" stroke-linejoin="round">200</text>
<text transform="translate(140.7 1622.21) scale(0.97 1)" font-family="'Liberation Sans', sans-serif" font-size="23.2" font-weight="bold" text-anchor="end" fill="#000" stroke="#000" stroke-width="0.5" stroke-linejoin="round">150</text>
<text transform="translate(140.7 1697.91) scale(0.97 1)" font-family="'Liberation Sans', sans-serif" font-size="23.2" font-weight="bold" text-anchor="end" fill="#000" stroke="#000" stroke-width="0.5" stroke-linejoin="round">100</text>
<text transform="translate(140.7 1773.61) scale(0.97 1)" font-family="'Liberation Sans', sans-serif" font-size="23.2" font-weight="bold" text-anchor="end" fill="#000" stroke="#000" stroke-width="0.5" stroke-linejoin="round">50</text>
<text transform="translate(140.7 1849.31) scale(0.97 1)" font-family="'Liberation Sans', sans-serif" font-size="23.2" font-weight="bold" text-anchor="end" fill="#000" stroke="#000" stroke-width="0.5" stroke-linejoin="round">0</text>
<path d="M142.3 1538.2H157.5M142.3 1613.9H157.5M142.3 1689.6H157.5M142.3 1765.3H157.5" stroke="#000" stroke-width="3.5" fill="none"/>
<text transform="translate(207.9 1875.5) scale(1.13 1)" font-family="'Liberation Sans', sans-serif" font-size="19.8" font-weight="bold" text-anchor="middle" fill="#000" stroke="#000" stroke-width="0.5" stroke-linejoin="round">1</text>
<text transform="translate(317.18 1875.5) scale(1.13 1)" font-family="'Liberation Sans', sans-serif" font-size="19.8" font-weight="bold" text-anchor="middle" fill="#000" stroke="#000" stroke-width="0.5" stroke-linejoin="round">2</text>
<text transform="translate(426.46 1875.5) scale(1.13 1)" font-family="'Liberation Sans', sans-serif" font-size="19.8" font-weight="bold" text-anchor="middle" fill="#000" stroke="#000" stroke-width="0.5" stroke-linejoin="round">3</text>
<text transform="translate(535.74 1875.5) scale(1.13 1)" font-family="'Liberation Sans', sans-serif" font-size="19.8" font-weight="bold" text-anchor="middle" fill="#000" stroke="#000" stroke-width="0.5" stroke-linejoin="round">4</text>
<text transform="translate(645.02 1875.5) scale(1.13 1)" font-family="'Liberation Sans', sans-serif" font-size="19.8" font-weight="bold" text-anchor="middle" fill="#000" stroke="#000" stroke-width="0.5" stroke-linejoin="round">5</text>
<text transform="translate(754.3 1875.5) scale(1.13 1)" font-family="'Liberation Sans', sans-serif" font-size="19.8" font-weight="bold" text-anchor="middle" fill="#000" stroke="#000" stroke-width="0.5" stroke-linejoin="round">6</text>
<text transform="translate(863.58 1875.5) scale(1.13 1)" font-family="'Liberation Sans', sans-serif" font-size="19.8" font-weight="bold" text-anchor="middle" fill="#000" stroke="#000" stroke-width="0.5" stroke-linejoin="round">7</text>
<text transform="translate(972.86 1875.5) scale(1.13 1)" font-family="'Liberation Sans', sans-serif" font-size="19.8" font-weight="bold" text-anchor="middle" fill="#000" stroke="#000" stroke-width="0.5" stroke-linejoin="round">8</text>
<text transform="translate(1082.14 1875.5) scale(1.13 1)" font-family="'Liberation Sans', sans-serif" font-size="19.8" font-weight="bold" text-anchor="middle" fill="#000" stroke="#000" stroke-width="0.5" stroke-linejoin="round">9</text>
<text transform="translate(1191.42 1875.5) scale(1.13 1)" font-family="'Liberation Sans', sans-serif" font-size="19.8" font-weight="bold" text-anchor="middle" fill="#000" stroke="#000" stroke-width="0.5" stroke-linejoin="round">10</text>
<path d="M207.9 1841V1855.8M317.18 1841V1855.8M426.46 1841V1855.8M535.74 1841V1855.8M645.02 1841V1855.8M754.3 1841V1855.8M863.58 1841V1855.8M972.86 1841V1855.8M1082.14 1841V1855.8M1191.42 1841V1855.8" stroke="#000" stroke-width="4" fill="none"/>
<text transform="translate(699.5 1897.5) scale(0.97 1)" font-family="'Liberation Sans', sans-serif" font-size="24.82" font-weight="bold" text-anchor="middle" fill="#000" stroke="#000" stroke-width="0.5" stroke-linejoin="round">Day</text>
<text transform="translate(87.58 1690.1) rotate(-90) scale(1 1.1)" font-family="'Liberation Sans', sans-serif" font-size="21.97" font-weight="normal" text-anchor="middle" fill="#000" stroke="#000" stroke-width="1.1" stroke-linejoin="round">Fluorescence Intensity (A.U.)</text>
<text transform="translate(3.07 1555.3)" font-family="'DejaVu Sans', sans-serif" font-size="44.5" font-weight="bold" text-anchor="start" fill="#000">e<tspan x="27.64">.</tspan></text>
</g>
<g>
<rect x="158.75" y="2063.66" width="14.5" height="155.74" fill="#0433ff" stroke="#0a0a0a" stroke-width="1.15"/>
<path d="M166 2061.77V2065.37M162.2 2061.77H169.8M162.2 2065.37H169.8" stroke="#1c1c1c" stroke-width="1" fill="none"/>
<rect x="182.15" y="2051.17" width="14.5" height="168.23" fill="#00c000" stroke="#0a0a0a" stroke-width="1.15"/>
<path d="M189.4 2045.88V2055.94M185.6 2045.88H193.2M185.6 2055.94H193.2" stroke="#1c1c1c" stroke-width="1" fill="none"/>
<rect x="205.55" y="2000.08" width="14.5" height="219.32" fill="#ff9500" stroke="#0a0a0a" stroke-width="1.15"/>
<path d="M212.8 1993.27V2006.21M209 1993.27H216.6M209 2006.21H216.6" stroke="#1c1c1c" stroke-width="1" fill="none"/>
<rect x="228.95" y="2041.71" width="14.5" height="177.69" fill="#ff5a52" stroke="#0a0a0a" stroke-width="1.15"/>
<path d="M236.2 2032.25V2050.23M232.4 2032.25H240M232.4 2050.23H240" stroke="#1c1c1c" stroke-width="1" fill="none"/>
<rect x="269.35" y="2063.66" width="14.5" height="155.74" fill="#0433ff" stroke="#0a0a0a" stroke-width="1.15"/>
<path d="M276.6 2059.12V2067.75M272.8 2059.12H280.4M272.8 2067.75H280.4" stroke="#1c1c1c" stroke-width="1" fill="none"/>
<rect x="292.75" y="2035.28" width="14.5" height="184.12" fill="#00c000" stroke="#0a0a0a" stroke-width="1.15"/>
<path d="M300 2028.47V2041.41M296.2 2028.47H303.8M296.2 2041.41H303.8" stroke="#1c1c1c" stroke-width="1" fill="none"/>
<rect x="316.15" y="1978.89" width="14.5" height="240.51" fill="#ff9500" stroke="#0a0a0a" stroke-width="1.15"/>
<path d="M323.4 1968.67V1988.08M319.6 1968.67H327.2M319.6 1988.08H327.2" stroke="#1c1c1c" stroke-width="1" fill="none"/>
<rect x="339.55" y="2047.77" width="14.5" height="171.63" fill="#ff5a52" stroke="#0a0a0a" stroke-width="1.15"/>
<path d="M346.8 2042.47V2052.54M343 2042.47H350.6M343 2052.54H350.6" stroke="#1c1c1c" stroke-width="1" fill="none"/>
<rect x="379.95" y="2068.58" width="14.5" height="150.82" fill="#0433ff" stroke="#0a0a0a" stroke-width="1.15"/>
<path d="M383.9 2068.28H390.5" stroke="#000" stroke-width="1.6" fill="none"/>
<rect x="403.35" y="2057.61" width="14.5" height="161.79" fill="#00c000" stroke="#0a0a0a" stroke-width="1.15"/>
<path d="M410.6 2053.07V2061.7M406.8 2053.07H414.4M406.8 2061.7H414.4" stroke="#1c1c1c" stroke-width="1" fill="none"/>
<rect x="426.75" y="2007.65" width="14.5" height="211.75" fill="#ff9500" stroke="#0a0a0a" stroke-width="1.15"/>
<path d="M434 2002.35V2012.42M430.2 2002.35H437.8M430.2 2012.42H437.8" stroke="#1c1c1c" stroke-width="1" fill="none"/>
<rect x="450.15" y="2045.88" width="14.5" height="173.52" fill="#ff5a52" stroke="#0a0a0a" stroke-width="1.15"/>
<path d="M457.4 2036.79V2054.05M453.6 2036.79H461.2M453.6 2054.05H461.2" stroke="#1c1c1c" stroke-width="1" fill="none"/>
<rect x="490.55" y="2059.12" width="14.5" height="160.28" fill="#0433ff" stroke="#0a0a0a" stroke-width="1.15"/>
<path d="M494.5 2058.82H501.1" stroke="#000" stroke-width="1.6" fill="none"/>
<rect x="513.95" y="2048.15" width="14.5" height="171.25" fill="#00c000" stroke="#0a0a0a" stroke-width="1.15"/>
<path d="M521.2 2040.2V2055.3M517.4 2040.2H525M517.4 2055.3H525" stroke="#1c1c1c" stroke-width="1" fill="none"/>
<rect x="537.35" y="1996.3" width="14.5" height="223.1" fill="#ff9500" stroke="#0a0a0a" stroke-width="1.15"/>
<path d="M544.6 1985.32V2006.17M540.8 1985.32H548.4M540.8 2006.17H548.4" stroke="#1c1c1c" stroke-width="1" fill="none"/>
<rect x="560.75" y="2034.9" width="14.5" height="184.5" fill="#ff5a52" stroke="#0a0a0a" stroke-width="1.15"/>
<path d="M568 2025.44V2043.42M564.2 2025.44H571.8M564.2 2043.42H571.8" stroke="#1c1c1c" stroke-width="1" fill="none"/>
<rect x="601.15" y="2059.5" width="14.5" height="159.9" fill="#0433ff" stroke="#0a0a0a" stroke-width="1.15"/>
<path d="M608.4 2054.96V2063.59M604.6 2054.96H612.2M604.6 2063.59H612.2" stroke="#1c1c1c" stroke-width="1" fill="none"/>
<rect x="624.55" y="2053.07" width="14.5" height="166.33" fill="#00c000" stroke="#0a0a0a" stroke-width="1.15"/>
<path d="M631.8 2043.98V2061.24M628 2043.98H635.6M628 2061.24H635.6" stroke="#1c1c1c" stroke-width="1" fill="none"/>
<rect x="647.95" y="2002.35" width="14.5" height="217.05" fill="#ff9500" stroke="#0a0a0a" stroke-width="1.15"/>
<path d="M655.2 1991.38V2012.23M651.4 1991.38H659M651.4 2012.23H659" stroke="#1c1c1c" stroke-width="1" fill="none"/>
<rect x="671.35" y="2040.2" width="14.5" height="179.2" fill="#ff5a52" stroke="#0a0a0a" stroke-width="1.15"/>
<path d="M678.6 2030.36V2049.05M674.8 2030.36H682.4M674.8 2049.05H682.4" stroke="#1c1c1c" stroke-width="1" fill="none"/>
<rect x="711.75" y="2062.53" width="14.5" height="156.87" fill="#0433ff" stroke="#0a0a0a" stroke-width="1.15"/>
<path d="M715.7 2062.23H722.3" stroke="#000" stroke-width="1.6" fill="none"/>
<rect x="735.15" y="2052.31" width="14.5" height="167.09" fill="#00c000" stroke="#0a0a0a" stroke-width="1.15"/>
<path d="M742.4 2049.66V2054.69M738.6 2049.66H746.2M738.6 2054.69H746.2" stroke="#1c1c1c" stroke-width="1" fill="none"/>
<rect x="758.55" y="2000.84" width="14.5" height="218.56" fill="#ff9500" stroke="#0a0a0a" stroke-width="1.15"/>
<path d="M765.8 1997.05V2004.24M762 1997.05H769.6M762 2004.24H769.6" stroke="#1c1c1c" stroke-width="1" fill="none"/>
<rect x="781.95" y="2041.71" width="14.5" height="177.69" fill="#ff5a52" stroke="#0a0a0a" stroke-width="1.15"/>
<path d="M789.2 2038.68V2044.44M785.4 2038.68H793M785.4 2044.44H793" stroke="#1c1c1c" stroke-width="1" fill="none"/>
<rect x="822.35" y="2060.64" width="14.5" height="158.76" fill="#0433ff" stroke="#0a0a0a" stroke-width="1.15"/>
<path d="M829.6 2054.96V2065.75M825.8 2054.96H833.4M825.8 2065.75H833.4" stroke="#1c1c1c" stroke-width="1" fill="none"/>
<rect x="845.75" y="2057.61" width="14.5" height="161.79" fill="#00c000" stroke="#0a0a0a" stroke-width="1.15"/>
<path d="M853 2043.98V2069.87M849.2 2043.98H856.8M849.2 2069.87H856.8" stroke="#1c1c1c" stroke-width="1" fill="none"/>
<rect x="869.15" y="2008.41" width="14.5" height="210.99" fill="#ff9500" stroke="#0a0a0a" stroke-width="1.15"/>
<path d="M876.4 1991.38V2023.74M872.6 1991.38H880.2M872.6 2023.74H880.2" stroke="#1c1c1c" stroke-width="1" fill="none"/>
<rect x="892.55" y="2040.2" width="14.5" height="179.2" fill="#ff5a52" stroke="#0a0a0a" stroke-width="1.15"/>
<path d="M899.8 2034.9V2044.97M896 2034.9H903.6M896 2044.97H903.6" stroke="#1c1c1c" stroke-width="1" fill="none"/>
<rect x="932.95" y="2061.01" width="14.5" height="158.39" fill="#0433ff" stroke="#0a0a0a" stroke-width="1.15"/>
<path d="M940.2 2056.85V2064.76M936.4 2056.85H944M936.4 2064.76H944" stroke="#1c1c1c" stroke-width="1" fill="none"/>
<rect x="956.35" y="2050.04" width="14.5" height="169.36" fill="#00c000" stroke="#0a0a0a" stroke-width="1.15"/>
<path d="M963.6 2039.82V2059.24M959.8 2039.82H967.4M959.8 2059.24H967.4" stroke="#1c1c1c" stroke-width="1" fill="none"/>
<rect x="979.75" y="2007.65" width="14.5" height="211.75" fill="#ff9500" stroke="#0a0a0a" stroke-width="1.15"/>
<path d="M987 1985.32V2027.75M983.2 1985.32H990.8M983.2 2027.75H990.8" stroke="#1c1c1c" stroke-width="1" fill="none"/>
<rect x="1003.15" y="2038.31" width="14.5" height="181.09" fill="#ff5a52" stroke="#0a0a0a" stroke-width="1.15"/>
<path d="M1010.4 2028.47V2047.16M1006.6 2028.47H1014.2M1006.6 2047.16H1014.2" stroke="#1c1c1c" stroke-width="1" fill="none"/>
<rect x="1043.55" y="2064.04" width="14.5" height="155.36" fill="#0433ff" stroke="#0a0a0a" stroke-width="1.15"/>
<path d="M1050.8 2059.5V2068.13M1047 2059.5H1054.6M1047 2068.13H1054.6" stroke="#1c1c1c" stroke-width="1" fill="none"/>
<rect x="1066.95" y="2040.96" width="14.5" height="178.44" fill="#00c000" stroke="#0a0a0a" stroke-width="1.15"/>
<path d="M1074.2 2032.25V2048.79M1070.4 2032.25H1078M1070.4 2048.79H1078" stroke="#1c1c1c" stroke-width="1" fill="none"/>
<rect x="1090.35" y="1986.08" width="14.5" height="233.32" fill="#ff9500" stroke="#0a0a0a" stroke-width="1.15"/>
<path d="M1097.6 1974.72V1996.3M1093.8 1974.72H1101.4M1093.8 1996.3H1101.4" stroke="#1c1c1c" stroke-width="1" fill="none"/>
<rect x="1113.75" y="2041.33" width="14.5" height="178.07" fill="#ff5a52" stroke="#0a0a0a" stroke-width="1.15"/>
<path d="M1121 2033.76V2048.15M1117.2 2033.76H1124.8M1117.2 2048.15H1124.8" stroke="#1c1c1c" stroke-width="1" fill="none"/>
<rect x="1154.15" y="2063.29" width="14.5" height="156.11" fill="#0433ff" stroke="#0a0a0a" stroke-width="1.15"/>
<path d="M1161.4 2059.12V2067.03M1157.6 2059.12H1165.2M1157.6 2067.03H1165.2" stroke="#1c1c1c" stroke-width="1" fill="none"/>
<rect x="1177.55" y="2059.5" width="14.5" height="159.9" fill="#00c000" stroke="#0a0a0a" stroke-width="1.15"/>
<path d="M1184.8 2054.96V2063.59M1181 2054.96H1188.6M1181 2063.59H1188.6" stroke="#1c1c1c" stroke-width="1" fill="none"/>
<rect x="1200.95" y="2008.79" width="14.5" height="210.61" fill="#ff9500" stroke="#0a0a0a" stroke-width="1.15"/>
<path d="M1208.2 2005.38V2011.85M1204.4 2005.38H1212M1204.4 2011.85H1212" stroke="#1c1c1c" stroke-width="1" fill="none"/>
<rect x="1224.35" y="2047.01" width="14.5" height="172.39" fill="#ff5a52" stroke="#0a0a0a" stroke-width="1.15"/>
<path d="M1231.6 2039.82V2053.48M1227.8 2039.82H1235.4M1227.8 2053.48H1235.4" stroke="#1c1c1c" stroke-width="1" fill="none"/>
<path d="M149.8 1915.8V2219.4" stroke="#000" stroke-width="4.2" fill="none"/>
<path d="M134.6 2219.4H1248.3" stroke="#000" stroke-width="4.2" fill="none"/>
<text transform="translate(133 1925.91) scale(0.97 1)" font-family="'Liberation Sans', sans-serif" font-size="23.2" font-weight="bold" text-anchor="end" fill="#000" stroke="#000" stroke-width="0.5" stroke-linejoin="round">200</text>
<text transform="translate(133 2001.36) scale(0.97 1)" font-family="'Liberation Sans', sans-serif" font-size="23.2" font-weight="bold" text-anchor="end" fill="#000" stroke="#000" stroke-width="0.5" stroke-linejoin="round">150</text>
<text transform="translate(133 2076.81) scale(0.97 1)" font-family="'Liberation Sans', sans-serif" font-size="23.2" font-weight="bold" text-anchor="end" fill="#000" stroke="#000" stroke-width="0.5" stroke-linejoin="round">100</text>
<text transform="translate(133 2152.26) scale(0.97 1)" font-family="'Liberation Sans', sans-serif" font-size="23.2" font-weight="bold" text-anchor="end" fill="#000" stroke="#000" stroke-width="0.5" stroke-linejoin="round">50</text>
<text transform="translate(133 2227.71) scale(0.97 1)" font-family="'Liberation Sans', sans-serif" font-size="23.2" font-weight="bold" text-anchor="end" fill="#000" stroke="#000" stroke-width="0.5" stroke-linejoin="round">0</text>
<path d="M134.6 1917.6H149.8M134.6 1993.05H149.8M134.6 2068.5H149.8M134.6 2143.95H149.8" stroke="#000" stroke-width="3.7" fill="none"/>
<text transform="translate(201.1 2253.9) scale(1.13 1)" font-family="'Liberation Sans', sans-serif" font-size="19.8" font-weight="bold" text-anchor="middle" fill="#000" stroke="#000" stroke-width="0.5" stroke-linejoin="round">1</text>
<text transform="translate(311.7 2253.9) scale(1.13 1)" font-family="'Liberation Sans', sans-serif" font-size="19.8" font-weight="bold" text-anchor="middle" fill="#000" stroke="#000" stroke-width="0.5" stroke-linejoin="round">2</text>
<text transform="translate(422.3 2253.9) scale(1.13 1)" font-family="'Liberation Sans', sans-serif" font-size="19.8" font-weight="bold" text-anchor="middle" fill="#000" stroke="#000" stroke-width="0.5" stroke-linejoin="round">3</text>
<text transform="translate(532.9 2253.9) scale(1.13 1)" font-family="'Liberation Sans', sans-serif" font-size="19.8" font-weight="bold" text-anchor="middle" fill="#000" stroke="#000" stroke-width="0.5" stroke-linejoin="round">4</text>
<text transform="translate(643.5 2253.9) scale(1.13 1)" font-family="'Liberation Sans', sans-serif" font-size="19.8" font-weight="bold" text-anchor="middle" fill="#000" stroke="#000" stroke-width="0.5" stroke-linejoin="round">5</text>
<text transform="translate(754.1 2253.9) scale(1.13 1)" font-family="'Liberation Sans', sans-serif" font-size="19.8" font-weight="bold" text-anchor="middle" fill="#000" stroke="#000" stroke-width="0.5" stroke-linejoin="round">6</text>
<text transform="translate(864.7 2253.9) scale(1.13 1)" font-family="'Liberation Sans', sans-serif" font-size="19.8" font-weight="bold" text-anchor="middle" fill="#000" stroke="#000" stroke-width="0.5" stroke-linejoin="round">7</text>
<text transform="translate(975.3 2253.9) scale(1.13 1)" font-family="'Liberation Sans', sans-serif" font-size="19.8" font-weight="bold" text-anchor="middle" fill="#000" stroke="#000" stroke-width="0.5" stroke-linejoin="round">8</text>
<text transform="translate(1085.9 2253.9) scale(1.13 1)" font-family="'Liberation Sans', sans-serif" font-size="19.8" font-weight="bold" text-anchor="middle" fill="#000" stroke="#000" stroke-width="0.5" stroke-linejoin="round">9</text>
<text transform="translate(1196.5 2253.9) scale(1.13 1)" font-family="'Liberation Sans', sans-serif" font-size="19.8" font-weight="bold" text-anchor="middle" fill="#000" stroke="#000" stroke-width="0.5" stroke-linejoin="round">10</text>
<path d="M201.1 2219.4V2234.2M311.7 2219.4V2234.2M422.3 2219.4V2234.2M532.9 2219.4V2234.2M643.5 2219.4V2234.2M754.1 2219.4V2234.2M864.7 2219.4V2234.2M975.3 2219.4V2234.2M1085.9 2219.4V2234.2M1196.5 2219.4V2234.2" stroke="#000" stroke-width="4.2" fill="none"/>
<text transform="translate(698.5 2277.2) scale(0.97 1)" font-family="'Liberation Sans', sans-serif" font-size="24.82" font-weight="bold" text-anchor="middle" fill="#000" stroke="#000" stroke-width="0.5" stroke-linejoin="round">Day</text>
<text transform="translate(80.1 2068.7) rotate(-90) scale(1 1.12)" font-family="'Liberation Sans', sans-serif" font-size="21.97" font-weight="normal" text-anchor="middle" fill="#000" stroke="#000" stroke-width="1.1" stroke-linejoin="round">Fluorescence Intensity (A.U.)</text>
<text transform="translate(10.07 1937.9) scale(0.93 1)" font-family="'DejaVu Sans', sans-serif" font-size="44.5" font-weight="bold" text-anchor="start" fill="#000">f<tspan x="17.22">.</tspan></text>
</g>
<g>
<text transform="translate(1287.15 60.2)" font-family="'Liberation Sans', sans-serif" font-size="42.67" font-weight="bold" text-anchor="start" fill="#2c3a50">Romaine lettuce</text>
<rect x="1283.8" y="81.8" width="479.1" height="46.4" fill="#fdeee8"/>
<path d="M1283.8 81.8H1762.9V317.3H1283.8ZM1283.8 128.2H1762.9M1443.7 81.8V317.3" stroke="#2a2a2a" stroke-width="1.8" fill="none"/>
<text transform="translate(1365.25 114.77)" font-family="'Liberation Sans', sans-serif" font-size="27" font-weight="bold" text-anchor="middle" fill="#000">Channel</text>
<text transform="translate(1603.3 114.77)" font-family="'Liberation Sans', sans-serif" font-size="27" font-weight="bold" text-anchor="middle" fill="#000">Intensity Range (A.U.)</text>
<text transform="translate(1365.25 163.47)" font-family="'Liberation Sans', sans-serif" font-size="27" font-weight="bold" text-anchor="middle" fill="#0a32ff">DAPI</text>
<text transform="translate(1603.3 163.47)" font-family="'Liberation Sans', sans-serif" font-size="27" font-weight="normal" text-anchor="middle" fill="#000">100 – 109</text>
<text transform="translate(1365.25 210.3)" font-family="'Liberation Sans', sans-serif" font-size="27" font-weight="bold" text-anchor="middle" fill="#00c000">FITC</text>
<text transform="translate(1603.3 210.3)" font-family="'Liberation Sans', sans-serif" font-size="27" font-weight="normal" text-anchor="middle" fill="#000">109 – 128</text>
<text transform="translate(1365.25 257.13)" font-family="'Liberation Sans', sans-serif" font-size="27" font-weight="bold" text-anchor="middle" fill="#ff9300">TRITC</text>
<text transform="translate(1603.3 257.13)" font-family="'Liberation Sans', sans-serif" font-size="27" font-weight="normal" text-anchor="middle" fill="#000">113 – 129</text>
<text transform="translate(1365.25 303.97)" font-family="'Liberation Sans', sans-serif" font-size="27" font-weight="bold" text-anchor="middle" fill="#ff4040">CY5</text>
<text transform="translate(1603.3 303.97)" font-family="'Liberation Sans', sans-serif" font-size="27" font-weight="normal" text-anchor="middle" fill="#000">2029 – 2410</text>
</g>
<g>
<text transform="translate(1288.77 434.3)" font-family="'Liberation Sans', sans-serif" font-size="42.67" font-weight="bold" text-anchor="start" fill="#2c3a50">Spinach</text>
<rect x="1284.4" y="457.8" width="476.6" height="47.4" fill="#fdeee8"/>
<path d="M1284.4 457.8H1761V692.7H1284.4ZM1284.4 505.2H1761M1442.5 457.8V692.7" stroke="#2a2a2a" stroke-width="1.8" fill="none"/>
<text transform="translate(1364.95 491.27)" font-family="'Liberation Sans', sans-serif" font-size="27" font-weight="bold" text-anchor="middle" fill="#000">Channel</text>
<text transform="translate(1601.75 491.27)" font-family="'Liberation Sans', sans-serif" font-size="27" font-weight="bold" text-anchor="middle" fill="#000">Intensity Range (A.U.)</text>
<text transform="translate(1364.95 538.77)" font-family="'Liberation Sans', sans-serif" font-size="27" font-weight="bold" text-anchor="middle" fill="#0a32ff">DAPI</text>
<text transform="translate(1601.75 538.77)" font-family="'Liberation Sans', sans-serif" font-size="27" font-weight="normal" text-anchor="middle" fill="#000">101 – 109</text>
<text transform="translate(1364.95 585.1)" font-family="'Liberation Sans', sans-serif" font-size="27" font-weight="bold" text-anchor="middle" fill="#00c000">FITC</text>
<text transform="translate(1601.75 585.1)" font-family="'Liberation Sans', sans-serif" font-size="27" font-weight="normal" text-anchor="middle" fill="#000">112 – 131</text>
<text transform="translate(1364.95 631.43)" font-family="'Liberation Sans', sans-serif" font-size="27" font-weight="bold" text-anchor="middle" fill="#ff9300">TRITC</text>
<text transform="translate(1601.75 631.43)" font-family="'Liberation Sans', sans-serif" font-size="27" font-weight="normal" text-anchor="middle" fill="#000">111 – 129</text>
<text transform="translate(1364.95 677.77)" font-family="'Liberation Sans', sans-serif" font-size="27" font-weight="bold" text-anchor="middle" fill="#ff4040">CY5</text>
<text transform="translate(1601.75 677.77)" font-family="'Liberation Sans', sans-serif" font-size="27" font-weight="normal" text-anchor="middle" fill="#000">2001 – 2641</text>
</g>
<g>
<text transform="translate(1291.25 828)" font-family="'Liberation Sans', sans-serif" font-size="42.67" font-weight="bold" text-anchor="start" fill="#2c3a50">Ground beef</text>
<rect x="1287.2" y="850" width="478.2" height="46.7" fill="#fdeee8"/>
<path d="M1287.2 850H1765.4V1085.5H1287.2ZM1287.2 896.7H1765.4M1446.2 850V1085.5" stroke="#2a2a2a" stroke-width="1.8" fill="none"/>
<text transform="translate(1368.2 883.12)" font-family="'Liberation Sans', sans-serif" font-size="27" font-weight="bold" text-anchor="middle" fill="#000">Channel</text>
<text transform="translate(1605.8 883.12)" font-family="'Liberation Sans', sans-serif" font-size="27" font-weight="bold" text-anchor="middle" fill="#000">Intensity Range (A.U.)</text>
<text transform="translate(1368.2 931.87)" font-family="'Liberation Sans', sans-serif" font-size="27" font-weight="bold" text-anchor="middle" fill="#0a32ff">DAPI</text>
<text transform="translate(1605.8 931.87)" font-family="'Liberation Sans', sans-serif" font-size="27" font-weight="normal" text-anchor="middle" fill="#000">101 – 110</text>
<text transform="translate(1368.2 978.5)" font-family="'Liberation Sans', sans-serif" font-size="27" font-weight="bold" text-anchor="middle" fill="#00c000">FITC</text>
<text transform="translate(1605.8 978.5)" font-family="'Liberation Sans', sans-serif" font-size="27" font-weight="normal" text-anchor="middle" fill="#000">113 – 133</text>
<text transform="translate(1368.2 1025.13)" font-family="'Liberation Sans', sans-serif" font-size="27" font-weight="bold" text-anchor="middle" fill="#ff9300">TRITC</text>
<text transform="translate(1605.8 1025.13)" font-family="'Liberation Sans', sans-serif" font-size="27" font-weight="normal" text-anchor="middle" fill="#000">118 – 158</text>
<text transform="translate(1368.2 1071.77)" font-family="'Liberation Sans', sans-serif" font-size="27" font-weight="bold" text-anchor="middle" fill="#ff4040">CY5</text>
<text transform="translate(1605.8 1071.77)" font-family="'Liberation Sans', sans-serif" font-size="27" font-weight="normal" text-anchor="middle" fill="#000">110 – 119</text>
</g>
<g>
<text transform="translate(1291.96 1202.6)" font-family="'Liberation Sans', sans-serif" font-size="42.67" font-weight="bold" text-anchor="start" fill="#2c3a50">Whole beef</text>
<rect x="1283.8" y="1225.2" width="477.9" height="48" fill="#fdeee8"/>
<path d="M1283.8 1225.2H1761.7V1460.1H1283.8ZM1283.8 1273.2H1761.7M1442.8 1225.2V1460.1" stroke="#2a2a2a" stroke-width="1.8" fill="none"/>
<text transform="translate(1364.8 1258.97)" font-family="'Liberation Sans', sans-serif" font-size="27" font-weight="bold" text-anchor="middle" fill="#000">Channel</text>
<text transform="translate(1602.25 1258.97)" font-family="'Liberation Sans', sans-serif" font-size="27" font-weight="bold" text-anchor="middle" fill="#000">Intensity Range (A.U.)</text>
<text transform="translate(1364.8 1306.77)" font-family="'Liberation Sans', sans-serif" font-size="27" font-weight="bold" text-anchor="middle" fill="#0a32ff">DAPI</text>
<text transform="translate(1602.25 1306.77)" font-family="'Liberation Sans', sans-serif" font-size="27" font-weight="normal" text-anchor="middle" fill="#000">101 – 110</text>
<text transform="translate(1364.8 1353.3)" font-family="'Liberation Sans', sans-serif" font-size="27" font-weight="bold" text-anchor="middle" fill="#00c000">FITC</text>
<text transform="translate(1602.25 1353.3)" font-family="'Liberation Sans', sans-serif" font-size="27" font-weight="normal" text-anchor="middle" fill="#000">118 – 137</text>
<text transform="translate(1364.8 1399.83)" font-family="'Liberation Sans', sans-serif" font-size="27" font-weight="bold" text-anchor="middle" fill="#ff9300">TRITC</text>
<text transform="translate(1602.25 1399.83)" font-family="'Liberation Sans', sans-serif" font-size="27" font-weight="normal" text-anchor="middle" fill="#000">131 – 169</text>
<text transform="translate(1364.8 1446.37)" font-family="'Liberation Sans', sans-serif" font-size="27" font-weight="bold" text-anchor="middle" fill="#ff4040">CY5</text>
<text transform="translate(1602.25 1446.37)" font-family="'Liberation Sans', sans-serif" font-size="27" font-weight="normal" text-anchor="middle" fill="#000">111 – 127</text>
</g>
<g>
<text transform="translate(1291.25 1586.6)" font-family="'Liberation Sans', sans-serif" font-size="42.67" font-weight="bold" text-anchor="start" fill="#2c3a50">Ground chicken</text>
<rect x="1285" y="1606.1" width="477.3" height="48" fill="#fdeee8"/>
<path d="M1285 1606.1H1762.3V1841.3H1285ZM1285 1654.1H1762.3M1444.3 1606.1V1841.3" stroke="#2a2a2a" stroke-width="1.8" fill="none"/>
<text transform="translate(1366.15 1639.87)" font-family="'Liberation Sans', sans-serif" font-size="27" font-weight="bold" text-anchor="middle" fill="#000">Channel</text>
<text transform="translate(1603.3 1639.87)" font-family="'Liberation Sans', sans-serif" font-size="27" font-weight="bold" text-anchor="middle" fill="#000">Intensity Range (A.U.)</text>
<text transform="translate(1366.15 1688.07)" font-family="'Liberation Sans', sans-serif" font-size="27" font-weight="bold" text-anchor="middle" fill="#0a32ff">DAPI</text>
<text transform="translate(1603.3 1688.07)" font-family="'Liberation Sans', sans-serif" font-size="27" font-weight="normal" text-anchor="middle" fill="#000">101 – 108</text>
<text transform="translate(1366.15 1734.6)" font-family="'Liberation Sans', sans-serif" font-size="27" font-weight="bold" text-anchor="middle" fill="#00c000">FITC</text>
<text transform="translate(1603.3 1734.6)" font-family="'Liberation Sans', sans-serif" font-size="27" font-weight="normal" text-anchor="middle" fill="#000">110 – 144</text>
<text transform="translate(1366.15 1781.13)" font-family="'Liberation Sans', sans-serif" font-size="27" font-weight="bold" text-anchor="middle" fill="#ff9300">TRITC</text>
<text transform="translate(1603.3 1781.13)" font-family="'Liberation Sans', sans-serif" font-size="27" font-weight="normal" text-anchor="middle" fill="#000">129 – 144</text>
<text transform="translate(1366.15 1827.67)" font-family="'Liberation Sans', sans-serif" font-size="27" font-weight="bold" text-anchor="middle" fill="#ff4040">CY5</text>
<text transform="translate(1603.3 1827.67)" font-family="'Liberation Sans', sans-serif" font-size="27" font-weight="normal" text-anchor="middle" fill="#000">109 – 120</text>
</g>
<g>
<text transform="translate(1291.96 1968.5)" font-family="'Liberation Sans', sans-serif" font-size="42.67" font-weight="bold" text-anchor="start" fill="#2c3a50">Whole chicken</text>
<rect x="1285" y="1988.9" width="478.5" height="47.9" fill="#fdeee8"/>
<path d="M1285 1988.9H1763.5V2225.6H1285ZM1285 2036.8H1763.5M1444.3 1988.9V2225.6" stroke="#2a2a2a" stroke-width="1.8" fill="none"/>
<text transform="translate(1366.15 2022.62)" font-family="'Liberation Sans', sans-serif" font-size="27" font-weight="bold" text-anchor="middle" fill="#000">Channel</text>
<text transform="translate(1603.9 2022.62)" font-family="'Liberation Sans', sans-serif" font-size="27" font-weight="bold" text-anchor="middle" fill="#000">Intensity Range (A.U.)</text>
<text transform="translate(1366.15 2071.67)" font-family="'Liberation Sans', sans-serif" font-size="27" font-weight="bold" text-anchor="middle" fill="#0a32ff">DAPI</text>
<text transform="translate(1603.9 2071.67)" font-family="'Liberation Sans', sans-serif" font-size="27" font-weight="normal" text-anchor="middle" fill="#000">101 – 109</text>
<text transform="translate(1366.15 2118.43)" font-family="'Liberation Sans', sans-serif" font-size="27" font-weight="bold" text-anchor="middle" fill="#00c000">FITC</text>
<text transform="translate(1603.9 2118.43)" font-family="'Liberation Sans', sans-serif" font-size="27" font-weight="normal" text-anchor="middle" fill="#000">100 – 127</text>
<text transform="translate(1366.15 2165.2)" font-family="'Liberation Sans', sans-serif" font-size="27" font-weight="bold" text-anchor="middle" fill="#ff9300">TRITC</text>
<text transform="translate(1603.9 2165.2)" font-family="'Liberation Sans', sans-serif" font-size="27" font-weight="normal" text-anchor="middle" fill="#000">127 – 166</text>
<text transform="translate(1366.15 2211.97)" font-family="'Liberation Sans', sans-serif" font-size="27" font-weight="bold" text-anchor="middle" fill="#ff4040">CY5</text>
<text transform="translate(1603.9 2211.97)" font-family="'Liberation Sans', sans-serif" font-size="27" font-weight="normal" text-anchor="middle" fill="#000">110 – 127</text>
</g>
</svg>
</body></html>
